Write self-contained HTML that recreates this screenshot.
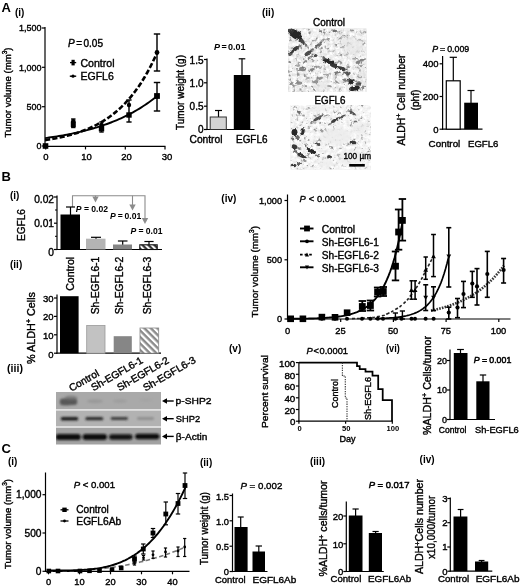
<!DOCTYPE html>
<html><head><meta charset="utf-8"><title>Figure</title>
<style>html,body{margin:0;padding:0;background:#fff;}svg{display:block}text{font-family:"Liberation Sans",sans-serif;}</style>
</head><body>
<svg width="520" height="586" viewBox="0 0 520 586">
<defs>
<filter id="b1" x="-20%" y="-20%" width="140%" height="140%"><feGaussianBlur stdDeviation="0.7"/></filter>
<filter id="b2" x="-20%" y="-20%" width="140%" height="140%"><feGaussianBlur stdDeviation="1.1"/></filter>
<filter id="b3" x="-20%" y="-20%" width="140%" height="140%"><feGaussianBlur stdDeviation="1.6"/></filter>
<filter id="soft" x="-2%" y="-2%" width="104%" height="104%"><feGaussianBlur stdDeviation="0.35"/></filter>
<filter id="grain1" x="0" y="0" width="100%" height="100%"><feTurbulence type="fractalNoise" baseFrequency="0.3" numOctaves="3" seed="4" result="n"/><feColorMatrix in="n" type="matrix" values="0.55 0 0 0 0.6  0.55 0 0 0 0.6  0.55 0 0 0 0.6  0 0 0 0 1" result="c"/><feComposite in="c" in2="SourceGraphic" operator="in"/></filter>
<filter id="grain2" x="0" y="0" width="100%" height="100%"><feTurbulence type="fractalNoise" baseFrequency="0.3" numOctaves="3" seed="11" result="n"/><feColorMatrix in="n" type="matrix" values="0.4 0 0 0 0.71  0.4 0 0 0 0.71  0.4 0 0 0 0.71  0 0 0 0 1" result="c"/><feComposite in="c" in2="SourceGraphic" operator="in"/></filter>
<filter id="speck1" x="0" y="0" width="100%" height="100%"><feTurbulence type="fractalNoise" baseFrequency="0.26" numOctaves="3" seed="23" result="n"/><feColorMatrix in="n" type="matrix" values="0 0 0 0 0.3  0 0 0 0 0.3  0 0 0 0 0.3  -5 0 0 0 2.05" result="c"/><feComposite in="c" in2="SourceGraphic" operator="in" result="k"/><feGaussianBlur in="k" stdDeviation="0.6"/></filter>
<filter id="speck2" x="0" y="0" width="100%" height="100%"><feTurbulence type="fractalNoise" baseFrequency="0.28" numOctaves="3" seed="31" result="n"/><feColorMatrix in="n" type="matrix" values="0 0 0 0 0.3  0 0 0 0 0.3  0 0 0 0 0.3  -5 0 0 0 1.95" result="c"/><feComposite in="c" in2="SourceGraphic" operator="in" result="k"/><feGaussianBlur in="k" stdDeviation="0.6"/></filter>
<filter id="blot" x="-10%" y="-10%" width="120%" height="120%"><feGaussianBlur stdDeviation="0.35" result="g"/><feTurbulence type="fractalNoise" baseFrequency="0.32" numOctaves="2" seed="7" result="t"/><feDisplacementMap in="g" in2="t" scale="3.2" xChannelSelector="R" yChannelSelector="G" result="d"/><feGaussianBlur in="d" stdDeviation="0.45"/></filter>
<pattern id="hatch" width="4.6" height="4.6" patternUnits="userSpaceOnUse" patternTransform="rotate(45)">
<rect width="4.6" height="4.6" fill="#fff"/><rect width="4.6" height="2.4" fill="#8a8a8a"/></pattern>
<pattern id="hatch2" width="4.2" height="4.2" patternUnits="userSpaceOnUse" patternTransform="rotate(45)">
<rect width="4.2" height="4.2" fill="#fff"/><rect width="4.2" height="2.2" fill="#333"/></pattern>
<clipPath id="cm1"><rect x="288" y="28.5" width="78.5" height="63.5"/></clipPath>
<clipPath id="cm2"><rect x="290.5" y="105" width="80.5" height="64.5"/></clipPath>
<clipPath id="cwb"><rect x="56" y="392" width="105" height="52.5"/></clipPath>
</defs>
<rect width="520" height="586" fill="#fff"/>
<g filter="url(#soft)">
<text x="1.50" y="11.50" font-size="13" text-anchor="start" fill="#000" font-weight="bold">A</text>
<text x="15.00" y="16.38" font-size="10" text-anchor="start" fill="#000" font-weight="bold">(i)</text>
<line x1="45.00" y1="27.00" x2="45.00" y2="146.60" stroke="#000" stroke-width="1.2" stroke-linecap="butt"/>
<line x1="42.00" y1="28.00" x2="45.00" y2="28.00" stroke="#000" stroke-width="1.2" stroke-linecap="butt"/>
<line x1="42.00" y1="67.30" x2="45.00" y2="67.30" stroke="#000" stroke-width="1.2" stroke-linecap="butt"/>
<line x1="42.00" y1="106.70" x2="45.00" y2="106.70" stroke="#000" stroke-width="1.2" stroke-linecap="butt"/>
<line x1="42.00" y1="146.00" x2="45.00" y2="146.00" stroke="#000" stroke-width="1.2" stroke-linecap="butt"/>
<line x1="44.40" y1="146.40" x2="165.50" y2="146.40" stroke="#000" stroke-width="1.2" stroke-linecap="butt"/>
<line x1="45.70" y1="146.40" x2="45.70" y2="149.40" stroke="#000" stroke-width="1.2" stroke-linecap="butt"/>
<line x1="85.50" y1="146.40" x2="85.50" y2="149.40" stroke="#000" stroke-width="1.2" stroke-linecap="butt"/>
<line x1="125.30" y1="146.40" x2="125.30" y2="149.40" stroke="#000" stroke-width="1.2" stroke-linecap="butt"/>
<line x1="165.00" y1="146.40" x2="165.00" y2="149.40" stroke="#000" stroke-width="1.2" stroke-linecap="butt"/>
<text x="41.50" y="31.22" font-size="9" text-anchor="end" fill="#000" stroke="#000" stroke-width="0.38">1,500</text>
<text x="41.50" y="70.52" font-size="9" text-anchor="end" fill="#000" stroke="#000" stroke-width="0.38">1,000</text>
<text x="41.50" y="109.92" font-size="9" text-anchor="end" fill="#000" stroke="#000" stroke-width="0.38">500</text>
<text x="41.50" y="149.22" font-size="9" text-anchor="end" fill="#000" stroke="#000" stroke-width="0.38">0</text>
<text x="45.90" y="160.00" font-size="9.5" text-anchor="middle" fill="#000" stroke="#000" stroke-width="0.38">0</text>
<text x="86.50" y="160.00" font-size="9.5" text-anchor="middle" fill="#000" stroke="#000" stroke-width="0.38">10</text>
<text x="126.50" y="160.00" font-size="9.5" text-anchor="middle" fill="#000" stroke="#000" stroke-width="0.38">20</text>
<text x="167.00" y="160.00" font-size="9.5" text-anchor="middle" fill="#000" stroke="#000" stroke-width="0.38">30</text>
<text x="10.50" y="92.50" font-size="9.7" text-anchor="middle" fill="#000" stroke="#000" stroke-width="0.38" transform="rotate(-90 10.50 92.50)" textLength="90" lengthAdjust="spacingAndGlyphs">Tumor volume (mm<tspan font-size="6.5" dy="-3.5">3</tspan><tspan dy="3.5">)</tspan></text>
<text x="68.00" y="46.58" font-size="10" text-anchor="start" fill="#000" stroke="#000" stroke-width="0.38"><tspan font-style="italic">P</tspan><tspan dx="1.51">=</tspan><tspan dx="1.51">0.05</tspan></text>
<rect x="71.50" y="59.80" width="3.20" height="5.60" fill="#000"/>
<line x1="70.00" y1="62.60" x2="76.20" y2="62.60" stroke="#000" stroke-width="1.3" stroke-linecap="butt"/>
<text x="80.50" y="66.66" font-size="10.5" text-anchor="start" fill="#000" stroke="#000" stroke-width="0.38" textLength="34" lengthAdjust="spacingAndGlyphs">Control</text>
<circle cx="73.00" cy="76.20" r="1.6" fill="#000"/>
<line x1="69.80" y1="76.20" x2="76.20" y2="76.20" stroke="#000" stroke-width="1.4" stroke-linecap="butt"/>
<text x="80.50" y="80.36" font-size="10.5" text-anchor="start" fill="#000" stroke="#000" stroke-width="0.38" textLength="33.3" lengthAdjust="spacingAndGlyphs">EGFL6</text>
<path d="M45.00,138.09 L47.00,137.82 L49.00,137.55 L51.00,137.26 L53.00,136.97 L55.00,136.66 L57.00,136.35 L59.00,136.02 L61.00,135.68 L63.00,135.34 L65.00,134.98 L67.00,134.61 L69.00,134.22 L71.00,133.83 L73.00,133.42 L75.00,133.00 L77.00,132.56 L79.00,132.11 L81.00,131.64 L83.00,131.16 L85.00,130.67 L87.00,130.15 L89.00,129.62 L91.00,129.07 L93.00,128.51 L95.00,127.92 L97.00,127.32 L99.00,126.70 L101.00,126.05 L103.00,125.39 L105.00,124.70 L107.00,123.99 L109.00,123.25 L111.00,122.50 L113.00,121.71 L115.00,120.90 L117.00,120.07 L119.00,119.20 L121.00,118.31 L123.00,117.39 L125.00,116.44 L127.00,115.45 L129.00,114.44 L131.00,113.39 L133.00,112.30 L135.00,111.18 L137.00,110.03 L139.00,108.83 L141.00,107.60 L143.00,106.32 L145.00,105.00 L147.00,103.64 L149.00,102.23 L151.00,100.78 L153.00,99.28 L155.00,97.73 L157.00,96.13" fill="none" stroke="#000" stroke-width="1.9" stroke-linecap="butt" stroke-linejoin="round"/>
<path d="M45.00,140.10 L47.00,139.80 L49.00,139.48 L51.00,139.15 L53.00,138.79 L55.00,138.42 L57.00,138.03 L59.00,137.63 L61.00,137.20 L63.00,136.75 L65.00,136.28 L67.00,135.78 L69.00,135.26 L71.00,134.71 L73.00,134.14 L75.00,133.54 L77.00,132.90 L79.00,132.24 L81.00,131.54 L83.00,130.81 L85.00,130.04 L87.00,129.24 L89.00,128.39 L91.00,127.50 L93.00,126.56 L95.00,125.58 L97.00,124.55 L99.00,123.47 L101.00,122.34 L103.00,121.15 L105.00,119.89 L107.00,118.58 L109.00,117.20 L111.00,115.75 L113.00,114.23 L115.00,112.63 L117.00,110.96 L119.00,109.20 L121.00,107.35 L123.00,105.41 L125.00,103.37 L127.00,101.23 L129.00,98.98 L131.00,96.63 L133.00,94.15 L135.00,91.55 L137.00,88.82 L139.00,85.95 L141.00,82.94 L143.00,79.78 L145.00,76.47 L147.00,72.98 L149.00,69.33 L151.00,65.49 L153.00,61.45 L155.00,57.22 L157.00,52.78 L157.50,51.63" fill="none" stroke="#000" stroke-width="2.6" stroke-linecap="butt" stroke-linejoin="round" stroke-dasharray="5.2 2.2"/>
<line x1="157.00" y1="34.00" x2="157.00" y2="71.00" stroke="#000" stroke-width="1.45" stroke-linecap="butt"/>
<line x1="153.80" y1="34.00" x2="160.20" y2="34.00" stroke="#000" stroke-width="1.45" stroke-linecap="butt"/>
<line x1="153.80" y1="71.00" x2="160.20" y2="71.00" stroke="#000" stroke-width="1.45" stroke-linecap="butt"/>
<circle cx="157.00" cy="52.50" r="2.4" fill="#000"/>
<line x1="157.00" y1="82.50" x2="157.00" y2="111.00" stroke="#000" stroke-width="1.45" stroke-linecap="butt"/>
<line x1="153.80" y1="82.50" x2="160.20" y2="82.50" stroke="#000" stroke-width="1.45" stroke-linecap="butt"/>
<line x1="153.80" y1="111.00" x2="160.20" y2="111.00" stroke="#000" stroke-width="1.45" stroke-linecap="butt"/>
<rect x="154.10" y="93.10" width="5.80" height="5.80" fill="#000"/>
<line x1="129.00" y1="100.00" x2="129.00" y2="122.00" stroke="#000" stroke-width="1.45" stroke-linecap="butt"/>
<line x1="126.40" y1="100.00" x2="131.60" y2="100.00" stroke="#000" stroke-width="1.45" stroke-linecap="butt"/>
<line x1="126.40" y1="122.00" x2="131.60" y2="122.00" stroke="#000" stroke-width="1.45" stroke-linecap="butt"/>
<circle cx="129.00" cy="105.00" r="2.2" fill="#000"/>
<rect x="126.30" y="112.30" width="5.40" height="5.40" fill="#000"/>
<line x1="101.50" y1="122.00" x2="101.50" y2="132.00" stroke="#000" stroke-width="1.4" stroke-linecap="butt"/>
<line x1="99.30" y1="122.00" x2="103.70" y2="122.00" stroke="#000" stroke-width="1.4" stroke-linecap="butt"/>
<line x1="99.30" y1="132.00" x2="103.70" y2="132.00" stroke="#000" stroke-width="1.4" stroke-linecap="butt"/>
<circle cx="101.50" cy="125.00" r="2.3" fill="#000"/>
<rect x="98.80" y="126.00" width="5.40" height="5.40" fill="#000"/>
<line x1="73.30" y1="119.00" x2="73.30" y2="127.50" stroke="#000" stroke-width="1.4" stroke-linecap="butt"/>
<line x1="71.10" y1="119.00" x2="75.50" y2="119.00" stroke="#000" stroke-width="1.4" stroke-linecap="butt"/>
<line x1="71.10" y1="127.50" x2="75.50" y2="127.50" stroke="#000" stroke-width="1.4" stroke-linecap="butt"/>
<circle cx="73.30" cy="121.50" r="2.4" fill="#000"/>
<rect x="70.80" y="122.00" width="5.00" height="5.00" fill="#000"/>
<rect x="42.70" y="143.20" width="5.60" height="5.60" fill="#000"/>
<line x1="207.00" y1="58.50" x2="207.00" y2="130.10" stroke="#000" stroke-width="1.2" stroke-linecap="butt"/>
<line x1="204.00" y1="59.50" x2="207.00" y2="59.50" stroke="#000" stroke-width="1.2" stroke-linecap="butt"/>
<line x1="204.00" y1="82.80" x2="207.00" y2="82.80" stroke="#000" stroke-width="1.2" stroke-linecap="butt"/>
<line x1="204.00" y1="106.20" x2="207.00" y2="106.20" stroke="#000" stroke-width="1.2" stroke-linecap="butt"/>
<line x1="204.00" y1="129.50" x2="207.00" y2="129.50" stroke="#000" stroke-width="1.2" stroke-linecap="butt"/>
<line x1="206.40" y1="129.50" x2="254.50" y2="129.50" stroke="#000" stroke-width="1.2" stroke-linecap="butt"/>
<text x="203.50" y="63.58" font-size="10" text-anchor="end" fill="#000" stroke="#000" stroke-width="0.38">1.5</text>
<text x="203.50" y="86.58" font-size="10" text-anchor="end" fill="#000" stroke="#000" stroke-width="0.38">1.0</text>
<text x="203.50" y="109.88" font-size="10" text-anchor="end" fill="#000" stroke="#000" stroke-width="0.38">0.5</text>
<text x="203.50" y="133.08" font-size="10" text-anchor="end" fill="#000" stroke="#000" stroke-width="0.38">0</text>
<text x="184.00" y="92.50" font-size="10" text-anchor="middle" fill="#000" stroke="#000" stroke-width="0.38" transform="rotate(-90 184.00 92.50)" textLength="75" lengthAdjust="spacingAndGlyphs">Tumor weight (g)</text>
<line x1="218.50" y1="110.50" x2="218.50" y2="117.00" stroke="#000" stroke-width="1.2" stroke-linecap="butt"/>
<line x1="215.00" y1="110.50" x2="222.00" y2="110.50" stroke="#000" stroke-width="1.2" stroke-linecap="butt"/>
<rect x="210.20" y="117.00" width="16.10" height="12.50" fill="#d4d4d4" stroke="#333" stroke-width="1"/>
<line x1="242.00" y1="58.80" x2="242.00" y2="76.00" stroke="#000" stroke-width="1.2" stroke-linecap="butt"/>
<line x1="238.70" y1="58.80" x2="245.30" y2="58.80" stroke="#000" stroke-width="1.2" stroke-linecap="butt"/>
<rect x="233.80" y="75.00" width="16.50" height="54.50" fill="#000"/>
<text x="214.00" y="50.22" font-size="9" text-anchor="start" fill="#000" font-weight="bold"><tspan font-style="italic">P</tspan><tspan dx="1.36">=</tspan><tspan dx="1.36">0.01</tspan></text>
<text x="189.50" y="143.15" font-size="10.2" text-anchor="start" fill="#000" stroke="#000" stroke-width="0.38" textLength="33" lengthAdjust="spacingAndGlyphs">Control</text>
<text x="236.00" y="143.15" font-size="10.2" text-anchor="start" fill="#000" stroke="#000" stroke-width="0.38" textLength="31.5" lengthAdjust="spacingAndGlyphs">EGFL6</text>
<text x="262.00" y="16.48" font-size="10" text-anchor="start" fill="#000" font-weight="bold">(ii)</text>
<text x="329.00" y="26.38" font-size="10" text-anchor="middle" fill="#000" stroke="#000" stroke-width="0.38" textLength="32" lengthAdjust="spacingAndGlyphs">Control</text>
<text x="330.00" y="104.08" font-size="10" text-anchor="middle" fill="#000" stroke="#000" stroke-width="0.38" textLength="31" lengthAdjust="spacingAndGlyphs">EGFL6</text>
<rect x="288.00" y="28.50" width="78.50" height="63.50" fill="#e0e0e0"/>
<g clip-path="url(#cm1)">
<rect x="288" y="28.5" width="78.5" height="63.5" filter="url(#grain1)"/>
<rect x="288" y="28.5" width="78.5" height="63.5" filter="url(#speck1)"/>
<g filter="url(#b3)" opacity="0.7">
<ellipse cx="352" cy="46" rx="13" ry="8" fill="#e6e6e6" opacity="1" transform="rotate(20 352 46)"/>
<ellipse cx="322" cy="86" rx="8" ry="4" fill="#e4e4e4" opacity="1" transform="rotate(0 322 86)"/>
<ellipse cx="362" cy="74" rx="4" ry="5" fill="#e4e4e4" opacity="1" transform="rotate(0 362 74)"/>
</g>
<g filter="url(#blot)">
<ellipse cx="295.5" cy="34.5" rx="7" ry="4.2" fill="#1c1c1c" opacity="0.95" transform="rotate(35 295.5 34.5)"/>
<ellipse cx="291" cy="31" rx="3.5" ry="2.5" fill="#333" opacity="0.85" transform="rotate(0 291 31)"/>
<ellipse cx="301" cy="40" rx="4.5" ry="2" fill="#2a2a2a" opacity="0.85" transform="rotate(50 301 40)"/>
<ellipse cx="304.5" cy="44" rx="3" ry="1.3" fill="#444" opacity="0.7" transform="rotate(55 304.5 44)"/>
<ellipse cx="294.5" cy="49.5" rx="5.5" ry="2" fill="#222" opacity="0.9" transform="rotate(-38 294.5 49.5)"/>
<ellipse cx="290.5" cy="54" rx="2.5" ry="1.6" fill="#3a3a3a" opacity="0.8" transform="rotate(-30 290.5 54)"/>
<ellipse cx="299" cy="46" rx="3" ry="1.2" fill="#555" opacity="0.7" transform="rotate(-35 299 46)"/>
<ellipse cx="307.5" cy="53.5" rx="3.5" ry="1.8" fill="#333" opacity="0.85" transform="rotate(-40 307.5 53.5)"/>
<ellipse cx="311.5" cy="50.5" rx="3" ry="1.4" fill="#444" opacity="0.75" transform="rotate(-40 311.5 50.5)"/>
<ellipse cx="315.3" cy="55.5" rx="2.2" ry="1.6" fill="#2a2a2a" opacity="0.85" transform="rotate(0 315.3 55.5)"/>
<ellipse cx="310" cy="57.5" rx="2.5" ry="1.2" fill="#555" opacity="0.7" transform="rotate(-30 310 57.5)"/>
<ellipse cx="318.5" cy="45" rx="4.5" ry="1.3" fill="#444" opacity="0.75" transform="rotate(-40 318.5 45)"/>
<ellipse cx="322" cy="41" rx="3" ry="1.1" fill="#666" opacity="0.6" transform="rotate(-40 322 41)"/>
<ellipse cx="305" cy="62" rx="2.5" ry="1.3" fill="#555" opacity="0.65" transform="rotate(-40 305 62)"/>
<ellipse cx="328.5" cy="61.5" rx="6" ry="2.4" fill="#1c1c1c" opacity="0.95" transform="rotate(15 328.5 61.5)"/>
<ellipse cx="334" cy="65.5" rx="4.5" ry="2" fill="#222" opacity="0.9" transform="rotate(20 334 65.5)"/>
<ellipse cx="341.5" cy="68.5" rx="4.5" ry="2" fill="#2a2a2a" opacity="0.9" transform="rotate(20 341.5 68.5)"/>
<ellipse cx="324" cy="58" rx="3" ry="1.5" fill="#444" opacity="0.75" transform="rotate(30 324 58)"/>
<ellipse cx="346" cy="73.5" rx="4" ry="1.6" fill="#3a3a3a" opacity="0.8" transform="rotate(15 346 73.5)"/>
<ellipse cx="337" cy="72.5" rx="3" ry="1.3" fill="#444" opacity="0.7" transform="rotate(-10 337 72.5)"/>
<ellipse cx="340" cy="62" rx="2.5" ry="1.1" fill="#666" opacity="0.6" transform="rotate(30 340 62)"/>
<ellipse cx="302.5" cy="69" rx="3.5" ry="2.2" fill="#555" opacity="0.7" transform="rotate(0 302.5 69)"/>
<ellipse cx="298" cy="65.5" rx="2" ry="1.4" fill="#666" opacity="0.6" transform="rotate(0 298 65.5)"/>
<ellipse cx="311.5" cy="70" rx="3.2" ry="1.6" fill="#555" opacity="0.7" transform="rotate(-20 311.5 70)"/>
<ellipse cx="350.5" cy="81" rx="4.2" ry="1.8" fill="#222" opacity="0.9" transform="rotate(40 350.5 81)"/>
<ellipse cx="351.5" cy="82" rx="4" ry="1.6" fill="#222" opacity="0.85" transform="rotate(-40 351.5 82)"/>
<ellipse cx="354.5" cy="88.3" rx="5.5" ry="2.6" fill="#1c1c1c" opacity="0.95" transform="rotate(-12 354.5 88.3)"/>
<ellipse cx="358.5" cy="84" rx="3" ry="1.8" fill="#3a3a3a" opacity="0.8" transform="rotate(0 358.5 84)"/>
<ellipse cx="345.5" cy="80" rx="2.5" ry="1.6" fill="#555" opacity="0.7" transform="rotate(0 345.5 80)"/>
<ellipse cx="358.5" cy="62" rx="3.2" ry="1.5" fill="#555" opacity="0.7" transform="rotate(-20 358.5 62)"/>
<ellipse cx="363" cy="59.5" rx="2.5" ry="1.3" fill="#555" opacity="0.7" transform="rotate(-30 363 59.5)"/>
<ellipse cx="361" cy="66" rx="2" ry="1.2" fill="#666" opacity="0.6" transform="rotate(0 361 66)"/>
<ellipse cx="334.8" cy="31" rx="2.4" ry="1.4" fill="#444" opacity="0.75" transform="rotate(0 334.8 31)"/>
<ellipse cx="320.5" cy="31.5" rx="2" ry="1.3" fill="#555" opacity="0.7" transform="rotate(0 320.5 31.5)"/>
<ellipse cx="352" cy="30.5" rx="2.2" ry="1.1" fill="#666" opacity="0.6" transform="rotate(0 352 30.5)"/>
<ellipse cx="341" cy="38" rx="3" ry="1" fill="#666" opacity="0.6" transform="rotate(-30 341 38)"/>
<ellipse cx="315" cy="81.5" rx="3.2" ry="1.8" fill="#777" opacity="0.7" transform="rotate(0 315 81.5)"/>
<ellipse cx="299" cy="83" rx="3" ry="1.8" fill="#666" opacity="0.7" transform="rotate(0 299 83)"/>
<ellipse cx="291" cy="83.5" rx="2" ry="1.5" fill="#666" opacity="0.7" transform="rotate(0 291 83.5)"/>
<ellipse cx="319.5" cy="78.5" rx="3.5" ry="1.5" fill="#666" opacity="0.65" transform="rotate(-15 319.5 78.5)"/>
<ellipse cx="343" cy="47" rx="2.2" ry="1" fill="#888" opacity="0.6" transform="rotate(-20 343 47)"/>
<ellipse cx="325" cy="75" rx="2.2" ry="1.2" fill="#777" opacity="0.6" transform="rotate(0 325 75)"/>
<ellipse cx="308" cy="78" rx="2" ry="1.1" fill="#777" opacity="0.6" transform="rotate(0 308 78)"/>
<ellipse cx="321" cy="67" rx="2.2" ry="1.2" fill="#888" opacity="0.6" transform="rotate(0 321 67)"/>
<ellipse cx="348" cy="72" rx="2" ry="1" fill="#555" opacity="0.6" transform="rotate(30 348 72)"/>
<ellipse cx="360" cy="77" rx="2.2" ry="1.3" fill="#777" opacity="0.6" transform="rotate(0 360 77)"/>
<ellipse cx="363" cy="87" rx="2.2" ry="1.6" fill="#555" opacity="0.65" transform="rotate(0 363 87)"/>
<ellipse cx="329" cy="86" rx="2" ry="1.1" fill="#777" opacity="0.6" transform="rotate(0 329 86)"/>
<ellipse cx="290" cy="62" rx="1.8" ry="1.1" fill="#555" opacity="0.7" transform="rotate(0 290 62)"/>
</g></g>
<rect x="290.50" y="105.00" width="80.50" height="64.50" fill="#e9e9e9"/>
<g clip-path="url(#cm2)">
<rect x="290.5" y="105" width="80.5" height="64.5" filter="url(#grain2)"/>
<rect x="290.5" y="105" width="80.5" height="64.5" filter="url(#speck2)"/>
<g filter="url(#b3)" opacity="0.8">
<ellipse cx="336" cy="136" rx="16" ry="9" fill="#ececec" opacity="1" transform="rotate(0 336 136)"/>
<ellipse cx="352" cy="158" rx="14" ry="8" fill="#ececec" opacity="1" transform="rotate(0 352 158)"/>
<ellipse cx="325" cy="163" rx="8" ry="4" fill="#ececec" opacity="1" transform="rotate(0 325 163)"/>
<ellipse cx="360" cy="128" rx="8" ry="6" fill="#ececec" opacity="1" transform="rotate(0 360 128)"/>
<ellipse cx="318" cy="109" rx="10" ry="3" fill="#ececec" opacity="1" transform="rotate(0 318 109)"/>
</g>
<g filter="url(#blot)">
<ellipse cx="294.5" cy="132.5" rx="3" ry="3.4" fill="#1c1c1c" opacity="0.95" transform="rotate(0 294.5 132.5)"/>
<ellipse cx="302.5" cy="131.5" rx="2.1" ry="3.6" fill="#222" opacity="0.95" transform="rotate(10 302.5 131.5)"/>
<ellipse cx="297.5" cy="137.5" rx="2.4" ry="1.7" fill="#444" opacity="0.8" transform="rotate(0 297.5 137.5)"/>
<ellipse cx="292.5" cy="139" rx="1.8" ry="1.5" fill="#444" opacity="0.75" transform="rotate(0 292.5 139)"/>
<ellipse cx="294.5" cy="146.8" rx="3" ry="2.3" fill="#222" opacity="0.9" transform="rotate(30 294.5 146.8)"/>
<ellipse cx="301.5" cy="155.5" rx="4.6" ry="2" fill="#222" opacity="0.9" transform="rotate(25 301.5 155.5)"/>
<ellipse cx="295.5" cy="152" rx="2.4" ry="1.7" fill="#444" opacity="0.75" transform="rotate(0 295.5 152)"/>
<ellipse cx="299" cy="148.5" rx="2" ry="1.2" fill="#555" opacity="0.7" transform="rotate(30 299 148.5)"/>
<ellipse cx="311.5" cy="151" rx="5.2" ry="2" fill="#1c1c1c" opacity="0.95" transform="rotate(25 311.5 151)"/>
<ellipse cx="317" cy="144" rx="3.6" ry="1.4" fill="#333" opacity="0.85" transform="rotate(20 317 144)"/>
<ellipse cx="317.5" cy="156" rx="2.8" ry="1.1" fill="#444" opacity="0.7" transform="rotate(20 317.5 156)"/>
<ellipse cx="306" cy="146" rx="2.2" ry="1.2" fill="#555" opacity="0.7" transform="rotate(20 306 146)"/>
<ellipse cx="317.5" cy="118.5" rx="4.8" ry="1.5" fill="#333" opacity="0.85" transform="rotate(-30 317.5 118.5)"/>
<ellipse cx="312" cy="122.5" rx="2.4" ry="1.1" fill="#555" opacity="0.65" transform="rotate(-30 312 122.5)"/>
<ellipse cx="322" cy="115.5" rx="2.2" ry="1" fill="#555" opacity="0.65" transform="rotate(-30 322 115.5)"/>
<ellipse cx="335.5" cy="120" rx="5.2" ry="1.6" fill="#2a2a2a" opacity="0.9" transform="rotate(-30 335.5 120)"/>
<ellipse cx="343" cy="116.5" rx="3.5" ry="1.3" fill="#3a3a3a" opacity="0.85" transform="rotate(-25 343 116.5)"/>
<ellipse cx="339" cy="113.5" rx="2.2" ry="1" fill="#666" opacity="0.6" transform="rotate(-20 339 113.5)"/>
<ellipse cx="330" cy="124" rx="2.4" ry="1" fill="#555" opacity="0.65" transform="rotate(-30 330 124)"/>
<ellipse cx="352.5" cy="113" rx="4" ry="1.3" fill="#3a3a3a" opacity="0.85" transform="rotate(35 352.5 113)"/>
<ellipse cx="355" cy="121.5" rx="2.4" ry="1.1" fill="#444" opacity="0.75" transform="rotate(0 355 121.5)"/>
<ellipse cx="348" cy="111" rx="2" ry="1" fill="#666" opacity="0.6" transform="rotate(0 348 111)"/>
<ellipse cx="353" cy="142.5" rx="3.4" ry="1.7" fill="#222" opacity="0.9" transform="rotate(10 353 142.5)"/>
<ellipse cx="329" cy="157" rx="2" ry="2" fill="#2a2a2a" opacity="0.9" transform="rotate(0 329 157)"/>
<ellipse cx="331" cy="147" rx="1.8" ry="1.1" fill="#666" opacity="0.6" transform="rotate(0 331 147)"/>
<ellipse cx="293.5" cy="165.5" rx="3" ry="1.7" fill="#222" opacity="0.9" transform="rotate(0 293.5 165.5)"/>
<ellipse cx="299.5" cy="163.5" rx="2.8" ry="1.4" fill="#3a3a3a" opacity="0.8" transform="rotate(-20 299.5 163.5)"/>
<ellipse cx="304.5" cy="161" rx="2.2" ry="1.1" fill="#555" opacity="0.65" transform="rotate(0 304.5 161)"/>
<ellipse cx="299" cy="112.5" rx="1.7" ry="2.2" fill="#444" opacity="0.75" transform="rotate(20 299 112.5)"/>
<ellipse cx="303.5" cy="115.5" rx="1.4" ry="1.1" fill="#666" opacity="0.6" transform="rotate(0 303.5 115.5)"/>
<ellipse cx="295" cy="107.5" rx="2.2" ry="1.1" fill="#777" opacity="0.6" transform="rotate(0 295 107.5)"/>
<ellipse cx="308" cy="140" rx="1.7" ry="1.1" fill="#666" opacity="0.6" transform="rotate(0 308 140)"/>
<ellipse cx="321.5" cy="131" rx="2.2" ry="1.2" fill="#666" opacity="0.6" transform="rotate(0 321.5 131)"/>
<ellipse cx="338" cy="155" rx="1.3" ry="1.3" fill="#888" opacity="0.5" transform="rotate(0 338 155)"/>
<ellipse cx="309" cy="128" rx="1.6" ry="1" fill="#777" opacity="0.55" transform="rotate(0 309 128)"/>
</g></g>
<text x="343.50" y="158.92" font-size="9" text-anchor="start" fill="#000" stroke="#000" stroke-width="0.38" textLength="27.5" lengthAdjust="spacingAndGlyphs">100 µm</text>
<rect x="349.20" y="164.00" width="15.60" height="2.60" fill="#000"/>
<line x1="442.60" y1="56.00" x2="442.60" y2="129.80" stroke="#000" stroke-width="1.2" stroke-linecap="butt"/>
<line x1="439.60" y1="63.80" x2="442.60" y2="63.80" stroke="#000" stroke-width="1.2" stroke-linecap="butt"/>
<line x1="439.60" y1="96.50" x2="442.60" y2="96.50" stroke="#000" stroke-width="1.2" stroke-linecap="butt"/>
<line x1="439.60" y1="129.20" x2="442.60" y2="129.20" stroke="#000" stroke-width="1.2" stroke-linecap="butt"/>
<line x1="442.00" y1="129.20" x2="482.50" y2="129.20" stroke="#000" stroke-width="1.2" stroke-linecap="butt"/>
<text x="438.50" y="67.20" font-size="9.5" text-anchor="end" fill="#000" stroke="#000" stroke-width="0.38">400</text>
<text x="438.50" y="99.90" font-size="9.5" text-anchor="end" fill="#000" stroke="#000" stroke-width="0.38">200</text>
<text x="438.50" y="132.60" font-size="9.5" text-anchor="end" fill="#000" stroke="#000" stroke-width="0.38">0</text>
<line x1="453.30" y1="57.30" x2="453.30" y2="81.00" stroke="#000" stroke-width="1.2" stroke-linecap="butt"/>
<line x1="449.70" y1="57.30" x2="456.90" y2="57.30" stroke="#000" stroke-width="1.2" stroke-linecap="butt"/>
<rect x="446.30" y="80.80" width="13.90" height="48.40" fill="#fff" stroke="#000" stroke-width="1.2"/>
<line x1="471.00" y1="90.50" x2="471.00" y2="103.00" stroke="#000" stroke-width="1.2" stroke-linecap="butt"/>
<line x1="467.50" y1="90.50" x2="474.50" y2="90.50" stroke="#000" stroke-width="1.2" stroke-linecap="butt"/>
<rect x="464.20" y="102.70" width="13.80" height="26.50" fill="#000"/>
<text x="432.30" y="51.85" font-size="8.8" text-anchor="start" fill="#000" stroke="#000" stroke-width="0.38"><tspan font-style="italic">P</tspan><tspan dx="1.94">=</tspan><tspan dx="1.94">0.009</tspan></text>
<text x="428.60" y="147.21" font-size="9.8" text-anchor="start" fill="#000" stroke="#000" stroke-width="0.38" textLength="31.7" lengthAdjust="spacingAndGlyphs">Control</text>
<text x="468.00" y="147.21" font-size="9.8" text-anchor="start" fill="#000" stroke="#000" stroke-width="0.38" textLength="30.4" lengthAdjust="spacingAndGlyphs">EGFL6</text>
<text x="404.50" y="100.00" font-size="10" text-anchor="middle" fill="#000" stroke="#000" stroke-width="0.38" transform="rotate(-90 404.50 100.00)" textLength="91" lengthAdjust="spacingAndGlyphs">ALDH<tspan font-size="7" dy="-3.5">+</tspan><tspan dy="3.5"> Cell number</tspan></text>
<text x="418.50" y="100.00" font-size="10" text-anchor="middle" fill="#000" stroke="#000" stroke-width="0.38" transform="rotate(-90 418.50 100.00)" textLength="21" lengthAdjust="spacingAndGlyphs">(phf)</text>
<text x="1.50" y="181.00" font-size="13" text-anchor="start" fill="#000" font-weight="bold">B</text>
<text x="10.00" y="199.08" font-size="10" text-anchor="start" fill="#000" font-weight="bold">(i)</text>
<line x1="57.00" y1="195.50" x2="57.00" y2="250.10" stroke="#000" stroke-width="1.2" stroke-linecap="butt"/>
<line x1="54.00" y1="197.00" x2="57.00" y2="197.00" stroke="#000" stroke-width="1.2" stroke-linecap="butt"/>
<line x1="54.00" y1="223.20" x2="57.00" y2="223.20" stroke="#000" stroke-width="1.2" stroke-linecap="butt"/>
<line x1="54.00" y1="249.50" x2="57.00" y2="249.50" stroke="#000" stroke-width="1.2" stroke-linecap="butt"/>
<line x1="55.00" y1="210.00" x2="57.00" y2="210.00" stroke="#000" stroke-width="1" stroke-linecap="butt"/>
<line x1="55.00" y1="236.30" x2="57.00" y2="236.30" stroke="#000" stroke-width="1" stroke-linecap="butt"/>
<line x1="56.40" y1="249.50" x2="162.00" y2="249.50" stroke="#000" stroke-width="1.2" stroke-linecap="butt"/>
<text x="54.00" y="203.15" font-size="10.2" text-anchor="end" fill="#000" stroke="#000" stroke-width="0.38">0.02</text>
<text x="54.00" y="227.15" font-size="10.2" text-anchor="end" fill="#000" stroke="#000" stroke-width="0.38">0.01</text>
<text x="54.00" y="256.15" font-size="10.2" text-anchor="end" fill="#000" stroke="#000" stroke-width="0.38">0</text>
<text x="25.20" y="225.00" font-size="10" text-anchor="middle" fill="#000" stroke="#000" stroke-width="0.38" transform="rotate(-90 25.20 225.00)" textLength="32" lengthAdjust="spacingAndGlyphs">EGFL6</text>
<path d="M72.5,207 V195.7 H145 V218" fill="none" stroke="#8c8c8c" stroke-width="1.1" stroke-linecap="butt" stroke-linejoin="miter"/>
<line x1="95.50" y1="195.70" x2="95.50" y2="198.00" stroke="#8c8c8c" stroke-width="1.1" stroke-linecap="butt"/>
<line x1="132.50" y1="195.70" x2="132.50" y2="205.00" stroke="#8c8c8c" stroke-width="1.1" stroke-linecap="butt"/>
<path d="M92.3,196.5 L98.7,196.5 L95.5,202.5 Z" fill="#8c8c8c"/>
<path d="M129.3,204.5 L135.7,204.5 L132.5,210.5 Z" fill="#8c8c8c"/>
<path d="M141.8,218 L148.2,218 L145,224 Z" fill="#8c8c8c"/>
<line x1="70.50" y1="207.00" x2="70.50" y2="215.00" stroke="#000" stroke-width="1.2" stroke-linecap="butt"/>
<line x1="66.00" y1="207.00" x2="75.00" y2="207.00" stroke="#000" stroke-width="1.2" stroke-linecap="butt"/>
<rect x="60.50" y="214.50" width="19.50" height="35.00" fill="#000"/>
<line x1="96.00" y1="237.30" x2="96.00" y2="239.00" stroke="#000" stroke-width="1.2" stroke-linecap="butt"/>
<line x1="91.00" y1="237.30" x2="101.00" y2="237.30" stroke="#000" stroke-width="1.2" stroke-linecap="butt"/>
<rect x="86.00" y="238.70" width="19.50" height="10.80" fill="#b4b4b4"/>
<line x1="122.70" y1="241.00" x2="122.70" y2="245.00" stroke="#000" stroke-width="1.2" stroke-linecap="butt"/>
<line x1="117.90" y1="241.00" x2="127.50" y2="241.00" stroke="#000" stroke-width="1.2" stroke-linecap="butt"/>
<rect x="113.00" y="244.50" width="19.00" height="5.00" fill="#858585"/>
<line x1="149.00" y1="241.50" x2="149.00" y2="245.00" stroke="#000" stroke-width="1.2" stroke-linecap="butt"/>
<line x1="144.40" y1="241.50" x2="153.60" y2="241.50" stroke="#000" stroke-width="1.2" stroke-linecap="butt"/>
<rect x="139.80" y="244.80" width="17.40" height="4.70" fill="url(#hatch2)" stroke="#111" stroke-width="1.1"/>
<text x="75.80" y="211.88" font-size="8.6" text-anchor="start" fill="#000" font-weight="bold"><tspan font-style="italic">P</tspan><tspan dx="2.35">=</tspan><tspan dx="2.35">0.02</tspan></text>
<text x="110.00" y="219.08" font-size="8.6" text-anchor="start" fill="#000" font-weight="bold"><tspan font-style="italic">P</tspan><tspan dx="1.90">=</tspan><tspan dx="1.90">0.01</tspan></text>
<text x="130.50" y="234.08" font-size="8.6" text-anchor="start" fill="#000" font-weight="bold"><tspan font-style="italic">P</tspan><tspan dx="2.25">=</tspan><tspan dx="2.25">0.01</tspan></text>
<text x="73.80" y="256.80" font-size="10" text-anchor="end" fill="#000" stroke="#000" stroke-width="0.38" transform="rotate(-90 73.80 256.80)" textLength="34" lengthAdjust="spacingAndGlyphs">Control</text>
<text x="99.20" y="256.80" font-size="10" text-anchor="end" fill="#000" stroke="#000" stroke-width="0.38" transform="rotate(-90 99.20 256.80)" textLength="57.5" lengthAdjust="spacingAndGlyphs">Sh-EGFL6-1</text>
<text x="123.00" y="256.80" font-size="10" text-anchor="end" fill="#000" stroke="#000" stroke-width="0.38" transform="rotate(-90 123.00 256.80)" textLength="57.5" lengthAdjust="spacingAndGlyphs">Sh-EGFL6-2</text>
<text x="151.00" y="256.80" font-size="10" text-anchor="end" fill="#000" stroke="#000" stroke-width="0.38" transform="rotate(-90 151.00 256.80)" textLength="57.5" lengthAdjust="spacingAndGlyphs">Sh-EGFL6-3</text>
<text x="10.00" y="267.58" font-size="10" text-anchor="start" fill="#000" font-weight="bold">(ii)</text>
<line x1="57.00" y1="294.50" x2="57.00" y2="353.80" stroke="#000" stroke-width="1.2" stroke-linecap="butt"/>
<line x1="54.00" y1="298.00" x2="57.00" y2="298.00" stroke="#000" stroke-width="1.2" stroke-linecap="butt"/>
<line x1="54.00" y1="316.40" x2="57.00" y2="316.40" stroke="#000" stroke-width="1.2" stroke-linecap="butt"/>
<line x1="54.00" y1="334.80" x2="57.00" y2="334.80" stroke="#000" stroke-width="1.2" stroke-linecap="butt"/>
<line x1="54.00" y1="353.20" x2="57.00" y2="353.20" stroke="#000" stroke-width="1.2" stroke-linecap="butt"/>
<line x1="56.40" y1="353.20" x2="161.00" y2="353.20" stroke="#000" stroke-width="1.2" stroke-linecap="butt"/>
<text x="53.50" y="301.90" font-size="9.5" text-anchor="end" fill="#000" stroke="#000" stroke-width="0.38">30</text>
<text x="53.50" y="320.40" font-size="9.5" text-anchor="end" fill="#000" stroke="#000" stroke-width="0.38">20</text>
<text x="53.50" y="338.70" font-size="9.5" text-anchor="end" fill="#000" stroke="#000" stroke-width="0.38">10</text>
<text x="53.50" y="358.40" font-size="9.5" text-anchor="end" fill="#000" stroke="#000" stroke-width="0.38">0</text>
<text x="34.50" y="328.00" font-size="10" text-anchor="middle" fill="#000" stroke="#000" stroke-width="0.38" transform="rotate(-90 34.50 328.00)" textLength="72" lengthAdjust="spacingAndGlyphs">% ALDH<tspan font-size="7" dy="-3.5">+</tspan><tspan dy="3.5"> Cells</tspan></text>
<rect x="60.00" y="296.20" width="18.60" height="57.00" fill="#000"/>
<rect x="86.70" y="325.50" width="18.30" height="27.70" fill="#c2c2c2" stroke="#9a9a9a" stroke-width="0.8"/>
<rect x="113.70" y="336.20" width="18.10" height="17.00" fill="#868686"/>
<rect x="140.00" y="328.00" width="18.70" height="25.20" fill="url(#hatch)" stroke="#888" stroke-width="0.8"/>
<text x="7.00" y="372.26" font-size="10.5" text-anchor="start" fill="#000" font-weight="bold" textLength="16" lengthAdjust="spacingAndGlyphs">(iii)</text>
<text x="71.40" y="391.80" font-size="10.2" text-anchor="start" fill="#000" stroke="#000" stroke-width="0.38" transform="rotate(-30 71.40 391.80)" textLength="33" lengthAdjust="spacingAndGlyphs">Control</text>
<text x="93.50" y="391.30" font-size="10.2" text-anchor="start" fill="#000" stroke="#000" stroke-width="0.38" transform="rotate(-30 93.50 391.30)" textLength="58" lengthAdjust="spacingAndGlyphs">Sh-EGFL6-1</text>
<text x="119.50" y="391.30" font-size="10.2" text-anchor="start" fill="#000" stroke="#000" stroke-width="0.38" transform="rotate(-30 119.50 391.30)" textLength="58" lengthAdjust="spacingAndGlyphs">Sh-EGFL6-2</text>
<text x="145.50" y="391.50" font-size="10.2" text-anchor="start" fill="#000" stroke="#000" stroke-width="0.38" transform="rotate(-30 145.50 391.50)" textLength="59" lengthAdjust="spacingAndGlyphs">Sh-EGFL6-3</text>
<rect x="56.00" y="392.00" width="105.00" height="17.20" fill="#a9a9a9"/>
<rect x="56.00" y="409.30" width="105.00" height="1.10" fill="#dcdcdc"/>
<rect x="56.00" y="410.60" width="105.00" height="15.80" fill="#b2b2b2"/>
<rect x="56.00" y="426.50" width="105.00" height="1.10" fill="#dcdcdc"/>
<rect x="56.00" y="427.80" width="105.00" height="16.70" fill="#a2a2a2"/>
<g clip-path="url(#cwb)" filter="url(#b2)">
<rect x="59.7" y="398.6" width="17.6" height="6.4" rx="3.2" fill="#4a4a4a" opacity="0.85"/>
<ellipse cx="71" cy="398" rx="6.5" ry="2.6" fill="#6a6a6a" opacity="0.6" transform="rotate(0 71 398)"/>
<ellipse cx="66" cy="404.5" rx="6" ry="1.5" fill="#555" opacity="0.4" transform="rotate(0 66 404.5)"/>
<ellipse cx="95" cy="401.2" rx="8" ry="2" fill="#8a8a8a" opacity="0.5" transform="rotate(0 95 401.2)"/>
<ellipse cx="120" cy="401" rx="7" ry="1.8" fill="#909090" opacity="0.45" transform="rotate(0 120 401)"/>
<ellipse cx="146" cy="400" rx="6" ry="1.5" fill="#999" opacity="0.3" transform="rotate(0 146 400)"/>
<rect x="60.7" y="417.0" width="17.6" height="3.4" rx="1.7" fill="#1e1e1e" opacity="1"/>
<rect x="85.3" y="417.09999999999997" width="18" height="3.2" rx="1.6" fill="#262626" opacity="0.95"/>
<rect x="110.7" y="417.1" width="17.2" height="2.8" rx="1.4" fill="#303030" opacity="0.9"/>
<rect x="137.0" y="417.1" width="17.0" height="2.8" rx="1.4" fill="#868686" opacity="0.75"/>
<rect x="55.699999999999996" y="433.9" width="25.2" height="6.2" rx="3.1" fill="#101010" opacity="1"/>
<rect x="82.6" y="434.1" width="24.4" height="5.8" rx="2.9" fill="#101010" opacity="1"/>
<rect x="109.0" y="434.3" width="23.6" height="5.4" rx="2.7" fill="#141414" opacity="1"/>
<rect x="135.10000000000002" y="433.8" width="24.4" height="5.4" rx="2.7" fill="#101010" opacity="1"/>
</g>
<line x1="165.00" y1="401.00" x2="173.70" y2="401.00" stroke="#000" stroke-width="1.4" stroke-linecap="butt"/>
<path d="M162,401 L167,398.2 L167,403.8 Z" fill="#000"/>
<line x1="165.00" y1="418.70" x2="173.70" y2="418.70" stroke="#000" stroke-width="1.4" stroke-linecap="butt"/>
<path d="M162,418.7 L167,415.9 L167,421.5 Z" fill="#000"/>
<line x1="165.00" y1="436.40" x2="173.70" y2="436.40" stroke="#000" stroke-width="1.4" stroke-linecap="butt"/>
<path d="M162,436.4 L167,433.59999999999997 L167,439.2 Z" fill="#000"/>
<text x="175.50" y="404.44" font-size="9.6" text-anchor="start" fill="#000" stroke="#000" stroke-width="0.38" textLength="36" lengthAdjust="spacingAndGlyphs">p-SHP2</text>
<text x="175.80" y="422.14" font-size="9.6" text-anchor="start" fill="#000" stroke="#000" stroke-width="0.38" textLength="24.3" lengthAdjust="spacingAndGlyphs">SHP2</text>
<text x="175.80" y="439.84" font-size="9.6" text-anchor="start" fill="#000" stroke="#000" stroke-width="0.38" textLength="31.5" lengthAdjust="spacingAndGlyphs">β-Actin</text>
<text x="221.30" y="202.38" font-size="10" text-anchor="start" fill="#000" font-weight="bold">(iv)</text>
<line x1="287.50" y1="194.50" x2="287.50" y2="319.60" stroke="#000" stroke-width="1.2" stroke-linecap="butt"/>
<line x1="284.50" y1="200.50" x2="287.50" y2="200.50" stroke="#000" stroke-width="1.2" stroke-linecap="butt"/>
<line x1="284.50" y1="259.80" x2="287.50" y2="259.80" stroke="#000" stroke-width="1.2" stroke-linecap="butt"/>
<line x1="284.50" y1="319.00" x2="287.50" y2="319.00" stroke="#000" stroke-width="1.2" stroke-linecap="butt"/>
<line x1="286.90" y1="319.00" x2="510.50" y2="319.00" stroke="#000" stroke-width="1.2" stroke-linecap="butt"/>
<line x1="288.00" y1="319.00" x2="288.00" y2="322.00" stroke="#000" stroke-width="1.2" stroke-linecap="butt"/>
<line x1="340.70" y1="319.00" x2="340.70" y2="322.00" stroke="#000" stroke-width="1.2" stroke-linecap="butt"/>
<line x1="393.40" y1="319.00" x2="393.40" y2="322.00" stroke="#000" stroke-width="1.2" stroke-linecap="butt"/>
<line x1="446.10" y1="319.00" x2="446.10" y2="322.00" stroke="#000" stroke-width="1.2" stroke-linecap="butt"/>
<line x1="498.80" y1="319.00" x2="498.80" y2="322.00" stroke="#000" stroke-width="1.2" stroke-linecap="butt"/>
<text x="282.00" y="203.79" font-size="9.2" text-anchor="end" fill="#000" stroke="#000" stroke-width="0.38">1,000</text>
<text x="282.00" y="263.09" font-size="9.2" text-anchor="end" fill="#000" stroke="#000" stroke-width="0.38">500</text>
<text x="282.00" y="322.29" font-size="9.2" text-anchor="end" fill="#000" stroke="#000" stroke-width="0.38">0</text>
<text x="287.70" y="333.83" font-size="9.3" text-anchor="middle" fill="#000" stroke="#000" stroke-width="0.38">0</text>
<text x="340.40" y="333.83" font-size="9.3" text-anchor="middle" fill="#000" stroke="#000" stroke-width="0.38">25</text>
<text x="393.10" y="333.83" font-size="9.3" text-anchor="middle" fill="#000" stroke="#000" stroke-width="0.38">50</text>
<text x="445.80" y="333.83" font-size="9.3" text-anchor="middle" fill="#000" stroke="#000" stroke-width="0.38">75</text>
<text x="498.50" y="333.83" font-size="9.3" text-anchor="middle" fill="#000" stroke="#000" stroke-width="0.38">100</text>
<text x="257.80" y="271.80" font-size="9.7" text-anchor="middle" fill="#000" stroke="#000" stroke-width="0.38" transform="rotate(-90 257.80 271.80)" textLength="91.5" lengthAdjust="spacingAndGlyphs">Tumor volume (mm<tspan font-size="6.5" dy="-3.4">3</tspan><tspan dy="3.4">)</tspan></text>
<text x="299.60" y="202.17" font-size="9.4" text-anchor="start" fill="#000" stroke="#000" stroke-width="0.38"><tspan font-style="italic">P</tspan><tspan dx="2.85">&lt;</tspan><tspan dx="2.85">0.0001</tspan></text>
<line x1="300.00" y1="228.50" x2="313.50" y2="228.50" stroke="#000" stroke-width="1.9" stroke-linecap="butt"/>
<rect x="304.10" y="225.60" width="5.80" height="5.80" fill="#000"/>
<line x1="300.00" y1="241.30" x2="313.50" y2="241.30" stroke="#000" stroke-width="1.9" stroke-linecap="butt"/>
<circle cx="307.00" cy="241.30" r="1.9" fill="#000"/>
<line x1="300.00" y1="254.60" x2="313.50" y2="254.60" stroke="#000" stroke-width="1.7" stroke-linecap="butt" stroke-dasharray="2.6 2"/>
<path d="M305,256.4 L309,256.4 L307,252.4 Z" fill="#000"/>
<line x1="300.00" y1="267.30" x2="313.50" y2="267.30" stroke="#000" stroke-width="1.9" stroke-linecap="butt"/>
<path d="M305,265.6 L309,265.6 L307,269.4 Z" fill="#000"/>
<text x="321.70" y="233.15" font-size="10.2" text-anchor="start" fill="#000" stroke="#000" stroke-width="0.38" textLength="33.3" lengthAdjust="spacingAndGlyphs">Control</text>
<text x="321.70" y="245.95" font-size="10.2" text-anchor="start" fill="#000" stroke="#000" stroke-width="0.38" textLength="57.1" lengthAdjust="spacingAndGlyphs">Sh-EGFL6-1</text>
<text x="321.70" y="259.15" font-size="10.2" text-anchor="start" fill="#000" stroke="#000" stroke-width="0.38" textLength="57.1" lengthAdjust="spacingAndGlyphs">Sh-EGFL6-2</text>
<text x="321.70" y="272.05" font-size="10.2" text-anchor="start" fill="#000" stroke="#000" stroke-width="0.38" textLength="57.1" lengthAdjust="spacingAndGlyphs">Sh-EGFL6-3</text>
<path d="M288.00,318.87 L289.50,318.86 L291.00,318.85 L292.50,318.84 L294.00,318.82 L295.50,318.80 L297.00,318.79 L298.50,318.77 L300.00,318.75 L301.50,318.72 L303.00,318.70 L304.50,318.67 L306.00,318.64 L307.50,318.61 L309.00,318.57 L310.50,318.53 L312.00,318.49 L313.50,318.44 L315.00,318.39 L316.50,318.34 L318.00,318.28 L319.50,318.21 L321.00,318.14 L322.50,318.06 L324.00,317.98 L325.50,317.88 L327.00,317.78 L328.50,317.67 L330.00,317.55 L331.50,317.42 L333.00,317.28 L334.50,317.12 L336.00,316.95 L337.50,316.76 L339.00,316.56 L340.50,316.34 L342.00,316.09 L343.50,315.83 L345.00,315.54 L346.50,315.23 L348.00,314.88 L349.50,314.51 L351.00,314.10 L352.50,313.66 L354.00,313.17 L355.50,312.64 L357.00,312.06 L358.50,311.43 L360.00,310.75 L361.50,309.99 L363.00,309.18 L364.50,308.28 L366.00,307.31 L367.50,306.25 L369.00,305.09 L370.50,303.82 L372.00,302.44 L373.50,300.94 L375.00,299.30 L376.50,297.51 L378.00,295.55 L379.50,293.42 L381.00,291.10 L382.50,288.56 L384.00,285.79 L385.50,282.77 L387.00,279.48 L388.50,275.89 L390.00,271.97 L391.50,267.69 L393.00,263.03 L394.50,257.94 L396.00,252.39 L397.50,246.34 L399.00,239.73 L400.50,232.53 L402.00,224.67 L403.00,219.04" fill="none" stroke="#000" stroke-width="1.9" stroke-linecap="butt" stroke-linejoin="round"/>
<path d="M352.00,318.60 C356.67,318.40 356.67,318.80 366.00,318.00 C375.33,317.20 372.67,317.73 380.00,316.20 C387.33,314.67 382.87,315.67 388.00,313.40 C393.13,311.13 390.40,312.53 395.40,309.40 C400.40,306.27 397.87,308.67 403.00,304.00 C408.13,299.33 405.63,302.00 410.80,295.40 C415.97,288.80 413.37,292.67 418.50,284.20 C423.63,275.73 421.23,279.33 426.20,270.00 C431.17,260.67 431.00,260.80 433.40,256.20" fill="none" stroke="#222" stroke-width="1.6" stroke-linecap="butt" stroke-linejoin="round" stroke-dasharray="3 2"/>
<path d="M375.00,318.64 L376.50,318.60 L378.00,318.56 L379.50,318.51 L381.00,318.45 L382.50,318.39 L384.00,318.33 L385.50,318.25 L387.00,318.17 L388.50,318.08 L390.00,317.97 L391.50,317.86 L393.00,317.73 L394.50,317.59 L396.00,317.44 L397.50,317.27 L399.00,317.07 L400.50,316.86 L402.00,316.62 L403.50,316.36 L405.00,316.07 L406.50,315.75 L408.00,315.38 L409.50,314.98 L411.00,314.54 L412.50,314.05 L414.00,313.50 L415.50,312.89 L417.00,312.21 L418.50,311.46 L420.00,310.63 L421.50,309.70 L423.00,308.67 L424.50,307.53 L426.00,306.26 L427.50,304.84 L429.00,303.28 L430.50,301.54 L432.00,299.60 L433.50,297.46 L435.00,295.07 L436.50,292.42 L438.00,289.48 L439.50,286.21 L441.00,282.58 L442.50,278.55 L444.00,274.07 L445.50,269.09 L447.00,263.57 L448.50,257.43 L448.80,256.13" fill="none" stroke="#000" stroke-width="1.7" stroke-linecap="butt" stroke-linejoin="round"/>
<path d="M431.00,310.68 L432.50,310.35 L434.00,310.02 L435.50,309.67 L437.00,309.30 L438.50,308.92 L440.00,308.53 L441.50,308.12 L443.00,307.70 L444.50,307.26 L446.00,306.80 L447.50,306.32 L449.00,305.83 L450.50,305.32 L452.00,304.78 L453.50,304.23 L455.00,303.65 L456.50,303.05 L458.00,302.43 L459.50,301.79 L461.00,301.11 L462.50,300.42 L464.00,299.69 L465.50,298.94 L467.00,298.16 L468.50,297.34 L470.00,296.50 L471.50,295.62 L473.00,294.71 L474.50,293.76 L476.00,292.78 L477.50,291.76 L479.00,290.70 L480.50,289.59 L482.00,288.45 L483.50,287.25 L485.00,286.02 L486.50,284.73 L488.00,283.39 L489.50,282.01 L491.00,280.56 L492.50,279.07 L494.00,277.51 L495.50,275.89 L497.00,274.21 L498.50,272.46 L500.00,270.65 L501.50,268.76 L503.00,266.80 L504.00,265.46" fill="none" stroke="#333" stroke-width="2.6" stroke-linecap="butt" stroke-linejoin="round" stroke-dasharray="1.6 1.2"/>
<circle cx="290.60" cy="318.80" r="2" fill="#000"/>
<circle cx="302.90" cy="318.80" r="2" fill="#000"/>
<circle cx="321.90" cy="318.80" r="2" fill="#000"/>
<circle cx="335.00" cy="318.80" r="2" fill="#000"/>
<circle cx="347.00" cy="318.80" r="2" fill="#000"/>
<circle cx="362.00" cy="318.80" r="2" fill="#000"/>
<circle cx="370.40" cy="318.80" r="2" fill="#000"/>
<circle cx="377.80" cy="318.80" r="2" fill="#000"/>
<circle cx="383.00" cy="318.80" r="2" fill="#000"/>
<circle cx="395.40" cy="318.80" r="2" fill="#000"/>
<circle cx="401.50" cy="318.80" r="2" fill="#000"/>
<circle cx="411.50" cy="318.80" r="2" fill="#000"/>
<circle cx="415.00" cy="318.80" r="2" fill="#000"/>
<circle cx="425.60" cy="318.80" r="2" fill="#000"/>
<circle cx="433.60" cy="318.80" r="2" fill="#000"/>
<line x1="448.80" y1="307.20" x2="448.80" y2="319.00" stroke="#000" stroke-width="1.6" stroke-linecap="butt"/>
<line x1="446.30" y1="307.20" x2="451.30" y2="307.20" stroke="#000" stroke-width="1.6" stroke-linecap="butt"/>
<line x1="446.30" y1="319.00" x2="451.30" y2="319.00" stroke="#000" stroke-width="1.6" stroke-linecap="butt"/>
<circle cx="448.80" cy="312.60" r="2.1" fill="#000"/>
<line x1="457.50" y1="298.50" x2="457.50" y2="317.70" stroke="#000" stroke-width="1.6" stroke-linecap="butt"/>
<line x1="455.00" y1="298.50" x2="460.00" y2="298.50" stroke="#000" stroke-width="1.6" stroke-linecap="butt"/>
<line x1="455.00" y1="317.70" x2="460.00" y2="317.70" stroke="#000" stroke-width="1.6" stroke-linecap="butt"/>
<circle cx="457.50" cy="307.60" r="2.1" fill="#000"/>
<line x1="463.50" y1="281.40" x2="463.50" y2="307.60" stroke="#000" stroke-width="1.6" stroke-linecap="butt"/>
<line x1="461.00" y1="281.40" x2="466.00" y2="281.40" stroke="#000" stroke-width="1.6" stroke-linecap="butt"/>
<line x1="461.00" y1="307.60" x2="466.00" y2="307.60" stroke="#000" stroke-width="1.6" stroke-linecap="butt"/>
<circle cx="463.50" cy="294.00" r="2.1" fill="#000"/>
<line x1="472.30" y1="271.40" x2="472.30" y2="297.30" stroke="#000" stroke-width="1.6" stroke-linecap="butt"/>
<line x1="469.80" y1="271.40" x2="474.80" y2="271.40" stroke="#000" stroke-width="1.6" stroke-linecap="butt"/>
<line x1="469.80" y1="297.30" x2="474.80" y2="297.30" stroke="#000" stroke-width="1.6" stroke-linecap="butt"/>
<circle cx="472.30" cy="283.60" r="2.1" fill="#000"/>
<line x1="477.00" y1="268.60" x2="477.00" y2="305.00" stroke="#000" stroke-width="1.6" stroke-linecap="butt"/>
<line x1="474.50" y1="268.60" x2="479.50" y2="268.60" stroke="#000" stroke-width="1.6" stroke-linecap="butt"/>
<line x1="474.50" y1="305.00" x2="479.50" y2="305.00" stroke="#000" stroke-width="1.6" stroke-linecap="butt"/>
<circle cx="477.00" cy="286.40" r="2.1" fill="#000"/>
<line x1="487.30" y1="251.40" x2="487.30" y2="297.30" stroke="#000" stroke-width="1.6" stroke-linecap="butt"/>
<line x1="484.80" y1="251.40" x2="489.80" y2="251.40" stroke="#000" stroke-width="1.6" stroke-linecap="butt"/>
<line x1="484.80" y1="297.30" x2="489.80" y2="297.30" stroke="#000" stroke-width="1.6" stroke-linecap="butt"/>
<circle cx="487.30" cy="274.00" r="2.1" fill="#000"/>
<line x1="503.60" y1="258.50" x2="503.60" y2="283.00" stroke="#000" stroke-width="1.6" stroke-linecap="butt"/>
<line x1="501.10" y1="258.50" x2="506.10" y2="258.50" stroke="#000" stroke-width="1.6" stroke-linecap="butt"/>
<line x1="501.10" y1="283.00" x2="506.10" y2="283.00" stroke="#000" stroke-width="1.6" stroke-linecap="butt"/>
<circle cx="503.60" cy="270.00" r="2.1" fill="#000"/>
<line x1="411.40" y1="280.80" x2="411.40" y2="299.20" stroke="#000" stroke-width="1.5" stroke-linecap="butt"/>
<line x1="409.50" y1="280.80" x2="413.30" y2="280.80" stroke="#000" stroke-width="1.5" stroke-linecap="butt"/>
<line x1="409.50" y1="299.20" x2="413.30" y2="299.20" stroke="#000" stroke-width="1.5" stroke-linecap="butt"/>
<path d="M409.0,292.12 L413.79999999999995,292.12 L411.4,287.8 Z" fill="#000"/>
<line x1="415.10" y1="280.80" x2="415.10" y2="299.20" stroke="#000" stroke-width="1.5" stroke-linecap="butt"/>
<line x1="413.20" y1="280.80" x2="417.00" y2="280.80" stroke="#000" stroke-width="1.5" stroke-linecap="butt"/>
<line x1="413.20" y1="299.20" x2="417.00" y2="299.20" stroke="#000" stroke-width="1.5" stroke-linecap="butt"/>
<path d="M412.70000000000005,292.12 L417.5,292.12 L415.1,287.8 Z" fill="#000"/>
<line x1="425.70" y1="257.00" x2="425.70" y2="279.30" stroke="#000" stroke-width="1.5" stroke-linecap="butt"/>
<line x1="423.50" y1="257.00" x2="427.90" y2="257.00" stroke="#000" stroke-width="1.5" stroke-linecap="butt"/>
<line x1="423.50" y1="279.30" x2="427.90" y2="279.30" stroke="#000" stroke-width="1.5" stroke-linecap="butt"/>
<path d="M423.3,271.72 L428.09999999999997,271.72 L425.7,267.40000000000003 Z" fill="#000"/>
<line x1="433.50" y1="234.50" x2="433.50" y2="276.60" stroke="#000" stroke-width="1.5" stroke-linecap="butt"/>
<line x1="431.10" y1="234.50" x2="435.90" y2="234.50" stroke="#000" stroke-width="1.5" stroke-linecap="butt"/>
<line x1="431.10" y1="276.60" x2="435.90" y2="276.60" stroke="#000" stroke-width="1.5" stroke-linecap="butt"/>
<path d="M431.1,258.22 L435.9,258.22 L433.5,253.9 Z" fill="#000"/>
<line x1="425.70" y1="284.80" x2="425.70" y2="310.50" stroke="#000" stroke-width="1.6" stroke-linecap="butt"/>
<line x1="423.20" y1="284.80" x2="428.20" y2="284.80" stroke="#000" stroke-width="1.6" stroke-linecap="butt"/>
<line x1="423.20" y1="310.50" x2="428.20" y2="310.50" stroke="#000" stroke-width="1.6" stroke-linecap="butt"/>
<path d="M423.3,295.68 L428.09999999999997,295.68 L425.7,300.0 Z" fill="#000"/>
<line x1="433.50" y1="286.80" x2="433.50" y2="310.60" stroke="#000" stroke-width="1.6" stroke-linecap="butt"/>
<line x1="431.00" y1="286.80" x2="436.00" y2="286.80" stroke="#000" stroke-width="1.6" stroke-linecap="butt"/>
<line x1="431.00" y1="310.60" x2="436.00" y2="310.60" stroke="#000" stroke-width="1.6" stroke-linecap="butt"/>
<path d="M431.1,295.68 L435.9,295.68 L433.5,300.0 Z" fill="#000"/>
<line x1="448.80" y1="227.70" x2="448.80" y2="287.00" stroke="#000" stroke-width="1.6" stroke-linecap="butt"/>
<line x1="446.30" y1="227.70" x2="451.30" y2="227.70" stroke="#000" stroke-width="1.6" stroke-linecap="butt"/>
<line x1="446.30" y1="287.00" x2="451.30" y2="287.00" stroke="#000" stroke-width="1.6" stroke-linecap="butt"/>
<path d="M446.40000000000003,254.38000000000002 L451.2,254.38000000000002 L448.8,258.7 Z" fill="#000"/>
<line x1="395.40" y1="313.00" x2="395.40" y2="319.00" stroke="#000" stroke-width="1.4" stroke-linecap="butt"/>
<line x1="392.80" y1="313.00" x2="398.00" y2="313.00" stroke="#000" stroke-width="1.4" stroke-linecap="butt"/>
<line x1="392.80" y1="319.00" x2="398.00" y2="319.00" stroke="#000" stroke-width="1.4" stroke-linecap="butt"/>
<line x1="402.40" y1="311.00" x2="402.40" y2="319.00" stroke="#000" stroke-width="1.4" stroke-linecap="butt"/>
<line x1="399.80" y1="311.00" x2="405.00" y2="311.00" stroke="#000" stroke-width="1.4" stroke-linecap="butt"/>
<line x1="399.80" y1="319.00" x2="405.00" y2="319.00" stroke="#000" stroke-width="1.4" stroke-linecap="butt"/>
<line x1="402.40" y1="199.00" x2="402.40" y2="240.60" stroke="#000" stroke-width="1.8" stroke-linecap="butt"/>
<line x1="398.70" y1="199.00" x2="406.10" y2="199.00" stroke="#000" stroke-width="1.8" stroke-linecap="butt"/>
<line x1="398.70" y1="240.60" x2="406.10" y2="240.60" stroke="#000" stroke-width="1.8" stroke-linecap="butt"/>
<rect x="399.00" y="217.00" width="6.80" height="6.80" fill="#000"/>
<line x1="398.60" y1="209.50" x2="398.60" y2="249.70" stroke="#000" stroke-width="1.8" stroke-linecap="butt"/>
<line x1="394.90" y1="209.50" x2="402.30" y2="209.50" stroke="#000" stroke-width="1.8" stroke-linecap="butt"/>
<line x1="394.90" y1="249.70" x2="402.30" y2="249.70" stroke="#000" stroke-width="1.8" stroke-linecap="butt"/>
<rect x="395.20" y="228.60" width="6.80" height="6.80" fill="#000"/>
<line x1="395.50" y1="251.50" x2="395.50" y2="280.40" stroke="#000" stroke-width="1.8" stroke-linecap="butt"/>
<line x1="391.80" y1="251.50" x2="399.20" y2="251.50" stroke="#000" stroke-width="1.8" stroke-linecap="butt"/>
<line x1="391.80" y1="280.40" x2="399.20" y2="280.40" stroke="#000" stroke-width="1.8" stroke-linecap="butt"/>
<rect x="392.10" y="262.80" width="6.80" height="6.80" fill="#000"/>
<line x1="383.30" y1="287.00" x2="383.30" y2="296.00" stroke="#000" stroke-width="1.8" stroke-linecap="butt"/>
<line x1="379.60" y1="287.00" x2="387.00" y2="287.00" stroke="#000" stroke-width="1.8" stroke-linecap="butt"/>
<line x1="379.60" y1="296.00" x2="387.00" y2="296.00" stroke="#000" stroke-width="1.8" stroke-linecap="butt"/>
<rect x="379.90" y="288.10" width="6.80" height="6.80" fill="#000"/>
<line x1="377.60" y1="287.50" x2="377.60" y2="296.50" stroke="#000" stroke-width="1.8" stroke-linecap="butt"/>
<line x1="373.90" y1="287.50" x2="381.30" y2="287.50" stroke="#000" stroke-width="1.8" stroke-linecap="butt"/>
<line x1="373.90" y1="296.50" x2="381.30" y2="296.50" stroke="#000" stroke-width="1.8" stroke-linecap="butt"/>
<rect x="374.20" y="288.60" width="6.80" height="6.80" fill="#000"/>
<line x1="370.40" y1="300.50" x2="370.40" y2="310.50" stroke="#000" stroke-width="1.8" stroke-linecap="butt"/>
<line x1="366.70" y1="300.50" x2="374.10" y2="300.50" stroke="#000" stroke-width="1.8" stroke-linecap="butt"/>
<line x1="366.70" y1="310.50" x2="374.10" y2="310.50" stroke="#000" stroke-width="1.8" stroke-linecap="butt"/>
<rect x="367.00" y="302.10" width="6.80" height="6.80" fill="#000"/>
<line x1="362.30" y1="301.00" x2="362.30" y2="311.00" stroke="#000" stroke-width="1.8" stroke-linecap="butt"/>
<line x1="358.60" y1="301.00" x2="366.00" y2="301.00" stroke="#000" stroke-width="1.8" stroke-linecap="butt"/>
<line x1="358.60" y1="311.00" x2="366.00" y2="311.00" stroke="#000" stroke-width="1.8" stroke-linecap="butt"/>
<rect x="358.90" y="303.10" width="6.80" height="6.80" fill="#000"/>
<rect x="343.80" y="309.40" width="6.60" height="6.60" fill="#000"/>
<rect x="331.70" y="314.00" width="6.60" height="6.60" fill="#000"/>
<rect x="318.60" y="313.80" width="6.60" height="6.60" fill="#000"/>
<rect x="299.60" y="315.50" width="6.60" height="6.60" fill="#000"/>
<rect x="287.40" y="315.50" width="6.60" height="6.60" fill="#000"/>
<text x="229.00" y="351.88" font-size="10" text-anchor="start" fill="#000" font-weight="bold">(v)</text>
<line x1="298.90" y1="362.60" x2="298.90" y2="421.80" stroke="#000" stroke-width="1.2" stroke-linecap="butt"/>
<line x1="295.90" y1="362.60" x2="298.90" y2="362.60" stroke="#000" stroke-width="1.2" stroke-linecap="butt"/>
<line x1="295.90" y1="374.30" x2="298.90" y2="374.30" stroke="#000" stroke-width="1.2" stroke-linecap="butt"/>
<line x1="295.90" y1="386.00" x2="298.90" y2="386.00" stroke="#000" stroke-width="1.2" stroke-linecap="butt"/>
<line x1="295.90" y1="397.80" x2="298.90" y2="397.80" stroke="#000" stroke-width="1.2" stroke-linecap="butt"/>
<line x1="295.90" y1="409.50" x2="298.90" y2="409.50" stroke="#000" stroke-width="1.2" stroke-linecap="butt"/>
<line x1="295.90" y1="421.20" x2="298.90" y2="421.20" stroke="#000" stroke-width="1.2" stroke-linecap="butt"/>
<line x1="298.30" y1="421.20" x2="393.00" y2="421.20" stroke="#000" stroke-width="1.2" stroke-linecap="butt"/>
<line x1="298.90" y1="421.20" x2="298.90" y2="423.70" stroke="#000" stroke-width="1.2" stroke-linecap="butt"/>
<line x1="345.60" y1="421.20" x2="345.60" y2="423.70" stroke="#000" stroke-width="1.2" stroke-linecap="butt"/>
<line x1="392.30" y1="421.20" x2="392.30" y2="423.70" stroke="#000" stroke-width="1.2" stroke-linecap="butt"/>
<text x="295.30" y="366.83" font-size="9.3" text-anchor="end" fill="#000" stroke="#000" stroke-width="0.38" textLength="16.3" lengthAdjust="spacingAndGlyphs">100</text>
<text x="295.30" y="378.53" font-size="9.3" text-anchor="end" fill="#000" stroke="#000" stroke-width="0.38" textLength="10.9" lengthAdjust="spacingAndGlyphs">80</text>
<text x="295.30" y="390.23" font-size="9.3" text-anchor="end" fill="#000" stroke="#000" stroke-width="0.38" textLength="10.9" lengthAdjust="spacingAndGlyphs">60</text>
<text x="295.30" y="402.03" font-size="9.3" text-anchor="end" fill="#000" stroke="#000" stroke-width="0.38" textLength="10.9" lengthAdjust="spacingAndGlyphs">40</text>
<text x="295.30" y="413.73" font-size="9.3" text-anchor="end" fill="#000" stroke="#000" stroke-width="0.38" textLength="10.9" lengthAdjust="spacingAndGlyphs">20</text>
<text x="295.30" y="425.43" font-size="9.3" text-anchor="end" fill="#000" stroke="#000" stroke-width="0.38" textLength="5.4" lengthAdjust="spacingAndGlyphs">0</text>
<text x="299.60" y="431.12" font-size="7.6" text-anchor="middle" fill="#000" font-weight="bold">0</text>
<text x="346.20" y="431.12" font-size="7.6" text-anchor="middle" fill="#000" font-weight="bold">50</text>
<text x="392.80" y="431.12" font-size="7.6" text-anchor="middle" fill="#000" font-weight="bold">100</text>
<text x="347.60" y="441.76" font-size="9.1" text-anchor="middle" fill="#000" stroke="#000" stroke-width="0.38">Day</text>
<text x="268.20" y="391.50" font-size="9.5" text-anchor="middle" fill="#000" stroke="#000" stroke-width="0.38" transform="rotate(-90 268.20 391.50)" textLength="73" lengthAdjust="spacingAndGlyphs">Percent survival</text>
<text x="306.50" y="354.33" font-size="9.3" text-anchor="start" fill="#000" stroke="#000" stroke-width="0.38"><tspan font-style="italic">P</tspan><tspan dx="0.71">&lt;</tspan><tspan dx="0.71">0.0001</tspan></text>
<path d="M298.9,362.6 H357 V366 H359.7 V369 H365.5 V371.5 H372.5 V375.7 H378.2 V389 H382.7 V400.1 H392 V421.2" fill="none" stroke="#000" stroke-width="1.75" stroke-linecap="butt" stroke-linejoin="miter"/>
<path d="M342.4,362.6 V376 H345.3 V398 H347 V421.2" fill="none" stroke="#333" stroke-width="1.1" stroke-linecap="butt" stroke-linejoin="miter" stroke-dasharray="1.3 1.1"/>
<text x="337.50" y="393.50" font-size="9" text-anchor="middle" fill="#000" stroke="#000" stroke-width="0.38" transform="rotate(-90 337.50 393.50)" textLength="29" lengthAdjust="spacingAndGlyphs">Control</text>
<text x="371.00" y="398.50" font-size="9" text-anchor="middle" fill="#000" stroke="#000" stroke-width="0.38" transform="rotate(-90 371.00 398.50)" textLength="43" lengthAdjust="spacingAndGlyphs">Sh-EGFL6</text>
<text x="386.00" y="351.88" font-size="10" text-anchor="start" fill="#000" font-weight="bold" textLength="13.8" lengthAdjust="spacingAndGlyphs">(vi)</text>
<line x1="450.00" y1="349.50" x2="450.00" y2="420.10" stroke="#000" stroke-width="1.2" stroke-linecap="butt"/>
<line x1="447.00" y1="360.50" x2="450.00" y2="360.50" stroke="#000" stroke-width="1.2" stroke-linecap="butt"/>
<line x1="447.00" y1="390.00" x2="450.00" y2="390.00" stroke="#000" stroke-width="1.2" stroke-linecap="butt"/>
<line x1="447.00" y1="419.50" x2="450.00" y2="419.50" stroke="#000" stroke-width="1.2" stroke-linecap="butt"/>
<line x1="449.40" y1="419.50" x2="495.00" y2="419.50" stroke="#000" stroke-width="1.2" stroke-linecap="butt"/>
<text x="447.00" y="363.72" font-size="9" text-anchor="end" fill="#000" stroke="#000" stroke-width="0.38">20</text>
<text x="447.00" y="393.22" font-size="9" text-anchor="end" fill="#000" stroke="#000" stroke-width="0.38">10</text>
<text x="447.00" y="422.72" font-size="9" text-anchor="end" fill="#000" stroke="#000" stroke-width="0.38">0</text>
<line x1="460.50" y1="349.50" x2="460.50" y2="354.00" stroke="#000" stroke-width="1.2" stroke-linecap="butt"/>
<line x1="457.10" y1="349.50" x2="463.90" y2="349.50" stroke="#000" stroke-width="1.2" stroke-linecap="butt"/>
<rect x="453.80" y="353.00" width="13.70" height="66.50" fill="#000"/>
<line x1="483.00" y1="375.00" x2="483.00" y2="382.00" stroke="#000" stroke-width="1.2" stroke-linecap="butt"/>
<line x1="479.80" y1="375.00" x2="486.20" y2="375.00" stroke="#000" stroke-width="1.2" stroke-linecap="butt"/>
<rect x="476.30" y="381.30" width="13.20" height="38.20" fill="#000"/>
<text x="473.80" y="363.15" font-size="8.8" text-anchor="start" fill="#000" stroke="#000" stroke-width="0.5"><tspan font-style="italic">P</tspan><tspan dx="2.24">=</tspan><tspan dx="2.24">0.001</tspan></text>
<text x="438.80" y="433.08" font-size="8.6" text-anchor="start" fill="#000" stroke="#000" stroke-width="0.38" textLength="27.5" lengthAdjust="spacingAndGlyphs">Control</text>
<text x="475.00" y="433.08" font-size="8.6" text-anchor="start" fill="#000" stroke="#000" stroke-width="0.38" textLength="43.7" lengthAdjust="spacingAndGlyphs">Sh-EGFL6</text>
<text x="430.50" y="385.50" font-size="10" text-anchor="middle" fill="#000" stroke="#000" stroke-width="0.38" transform="rotate(-90 430.50 385.50)" textLength="99" lengthAdjust="spacingAndGlyphs">%ALDH<tspan font-size="7" dy="-3.5">+</tspan><tspan dy="3.5"> Cells/tumor</tspan></text>
<text x="1.50" y="453.00" font-size="13" text-anchor="start" fill="#000" font-weight="bold">C</text>
<text x="8.00" y="464.58" font-size="10" text-anchor="start" fill="#000" font-weight="bold">(i)</text>
<line x1="45.50" y1="472.50" x2="45.50" y2="571.90" stroke="#000" stroke-width="1.2" stroke-linecap="butt"/>
<line x1="42.50" y1="494.70" x2="45.50" y2="494.70" stroke="#000" stroke-width="1.2" stroke-linecap="butt"/>
<line x1="42.50" y1="533.00" x2="45.50" y2="533.00" stroke="#000" stroke-width="1.2" stroke-linecap="butt"/>
<line x1="42.50" y1="571.30" x2="45.50" y2="571.30" stroke="#000" stroke-width="1.2" stroke-linecap="butt"/>
<line x1="44.90" y1="571.30" x2="189.50" y2="571.30" stroke="#000" stroke-width="1.2" stroke-linecap="butt"/>
<line x1="48.50" y1="571.30" x2="48.50" y2="574.30" stroke="#000" stroke-width="1.2" stroke-linecap="butt"/>
<line x1="79.50" y1="571.30" x2="79.50" y2="574.30" stroke="#000" stroke-width="1.2" stroke-linecap="butt"/>
<line x1="110.50" y1="571.30" x2="110.50" y2="574.30" stroke="#000" stroke-width="1.2" stroke-linecap="butt"/>
<line x1="141.50" y1="571.30" x2="141.50" y2="574.30" stroke="#000" stroke-width="1.2" stroke-linecap="butt"/>
<line x1="172.50" y1="571.30" x2="172.50" y2="574.30" stroke="#000" stroke-width="1.2" stroke-linecap="butt"/>
<text x="41.50" y="498.35" font-size="10.2" text-anchor="end" fill="#000" stroke="#000" stroke-width="0.38">1,000</text>
<text x="41.50" y="536.65" font-size="10.2" text-anchor="end" fill="#000" stroke="#000" stroke-width="0.38">500</text>
<text x="41.50" y="574.95" font-size="10.2" text-anchor="end" fill="#000" stroke="#000" stroke-width="0.38">0</text>
<text x="48.50" y="584.83" font-size="9.3" text-anchor="middle" fill="#000" stroke="#000" stroke-width="0.38">0</text>
<text x="79.50" y="584.83" font-size="9.3" text-anchor="middle" fill="#000" stroke="#000" stroke-width="0.38">10</text>
<text x="110.50" y="584.83" font-size="9.3" text-anchor="middle" fill="#000" stroke="#000" stroke-width="0.38">20</text>
<text x="141.50" y="584.83" font-size="9.3" text-anchor="middle" fill="#000" stroke="#000" stroke-width="0.38">30</text>
<text x="172.50" y="584.83" font-size="9.3" text-anchor="middle" fill="#000" stroke="#000" stroke-width="0.38">40</text>
<text x="10.90" y="524.00" font-size="9.7" text-anchor="middle" fill="#000" stroke="#000" stroke-width="0.38" transform="rotate(-90 10.90 524.00)" textLength="90" lengthAdjust="spacingAndGlyphs">Tumor volume (mm<tspan font-size="6.5" dy="-3.5">3</tspan><tspan dy="3.5">)</tspan></text>
<text x="73.80" y="487.94" font-size="9.6" text-anchor="start" fill="#000" stroke="#000" stroke-width="0.38"><tspan font-style="italic">P</tspan><tspan dx="2.59">&lt;</tspan><tspan dx="2.59">0.001</tspan></text>
<line x1="60.50" y1="509.80" x2="68.50" y2="509.80" stroke="#000" stroke-width="1.3" stroke-linecap="butt"/>
<rect x="62.30" y="507.60" width="4.40" height="4.40" fill="#000"/>
<line x1="60.50" y1="521.00" x2="68.50" y2="521.00" stroke="#000" stroke-width="1.3" stroke-linecap="butt"/>
<circle cx="64.50" cy="521.00" r="1.4" fill="#000"/>
<text x="76.30" y="513.38" font-size="10" text-anchor="start" fill="#000" stroke="#000" stroke-width="0.38" textLength="32.5" lengthAdjust="spacingAndGlyphs">Control</text>
<text x="76.30" y="524.58" font-size="10" text-anchor="start" fill="#000" stroke="#000" stroke-width="0.38" textLength="45" lengthAdjust="spacingAndGlyphs">EGFL6Ab</text>
<path d="M48.50,571.00 L50.00,571.00 L51.50,571.00 L53.00,570.99 L54.50,570.99 L56.00,570.98 L57.50,570.97 L59.00,570.96 L60.50,570.94 L62.00,570.92 L63.50,570.89 L65.00,570.87 L66.50,570.83 L68.00,570.80 L69.50,570.76 L71.00,570.71 L72.50,570.66 L74.00,570.61 L75.50,570.55 L77.00,570.49 L78.50,570.42 L80.00,570.35 L81.50,570.27 L83.00,570.18 L84.50,570.09 L86.00,570.00 L87.50,569.90 L89.00,569.79 L90.50,569.68 L92.00,569.56 L93.50,569.43 L95.00,569.30 L96.50,569.17 L98.00,569.02 L99.50,568.87 L101.00,568.72 L102.50,568.55 L104.00,568.38 L105.50,568.21 L107.00,568.02 L108.50,567.83 L110.00,567.63 L111.50,567.43 L113.00,567.22 L114.50,567.00 L116.00,566.77 L117.50,566.54 L119.00,566.30 L120.50,566.05 L122.00,565.79 L123.50,565.53 L125.00,565.25 L126.50,564.97 L128.00,564.69 L129.50,564.39 L131.00,564.09 L132.50,563.77 L134.00,563.45 L135.50,563.12 L137.00,562.79 L138.50,562.44 L140.00,562.09 L141.50,561.73 L143.00,561.36 L144.50,560.98 L146.00,560.59 L147.50,560.19 L149.00,559.79 L150.50,559.37 L152.00,558.95 L153.50,558.52 L155.00,558.07 L156.50,557.62 L158.00,557.16 L159.50,556.69 L161.00,556.22 L162.50,555.73 L164.00,555.23 L165.50,554.73 L167.00,554.21 L168.50,553.68 L170.00,553.15 L171.50,552.60 L173.00,552.05 L174.50,551.49 L176.00,550.91 L177.50,550.33 L179.00,549.73 L180.50,549.13 L182.00,548.52 L183.50,547.89 L185.00,547.26 L185.50,547.04" fill="none" stroke="#777" stroke-width="1.6" stroke-linecap="butt" stroke-linejoin="round" stroke-dasharray="4.5 2.5"/>
<path d="M48.50,570.50 L50.00,570.50 L51.50,570.50 L53.00,570.50 L54.50,570.50 L56.00,570.50 L57.50,570.50 L59.00,570.49 L60.50,570.49 L62.00,570.48 L63.50,570.47 L65.00,570.46 L66.50,570.44 L68.00,570.43 L69.50,570.40 L71.00,570.38 L72.50,570.34 L74.00,570.30 L75.50,570.26 L77.00,570.21 L78.50,570.15 L80.00,570.08 L81.50,570.00 L83.00,569.92 L84.50,569.82 L86.00,569.71 L87.50,569.60 L89.00,569.46 L90.50,569.32 L92.00,569.16 L93.50,568.99 L95.00,568.80 L96.50,568.59 L98.00,568.37 L99.50,568.12 L101.00,567.86 L102.50,567.58 L104.00,567.28 L105.50,566.95 L107.00,566.61 L108.50,566.24 L110.00,565.84 L111.50,565.42 L113.00,564.97 L114.50,564.49 L116.00,563.98 L117.50,563.45 L119.00,562.88 L120.50,562.28 L122.00,561.65 L123.50,560.98 L125.00,560.28 L126.50,559.53 L128.00,558.76 L129.50,557.94 L131.00,557.08 L132.50,556.18 L134.00,555.24 L135.50,554.25 L137.00,553.22 L138.50,552.14 L140.00,551.02 L141.50,549.85 L143.00,548.62 L144.50,547.34 L146.00,546.02 L147.50,544.63 L149.00,543.19 L150.50,541.70 L152.00,540.14 L153.50,538.53 L155.00,536.85 L156.50,535.12 L158.00,533.31 L159.50,531.45 L161.00,529.51 L162.50,527.51 L164.00,525.44 L165.50,523.30 L167.00,521.08 L168.50,518.79 L170.00,516.43 L171.50,513.99 L173.00,511.47 L174.50,508.87 L176.00,506.18 L177.50,503.42 L179.00,500.57 L180.50,497.63 L182.00,494.60 L183.50,491.49 L185.00,488.28 L185.50,487.19" fill="none" stroke="#000" stroke-width="1.9" stroke-linecap="butt" stroke-linejoin="round"/>
<line x1="184.70" y1="538.50" x2="184.70" y2="556.50" stroke="#000" stroke-width="1.2" stroke-linecap="butt"/>
<line x1="183.10" y1="538.50" x2="186.30" y2="538.50" stroke="#000" stroke-width="1.2" stroke-linecap="butt"/>
<line x1="183.10" y1="556.50" x2="186.30" y2="556.50" stroke="#000" stroke-width="1.2" stroke-linecap="butt"/>
<circle cx="184.70" cy="547.00" r="1.4" fill="#000"/>
<line x1="178.00" y1="547.00" x2="178.00" y2="556.50" stroke="#000" stroke-width="1.2" stroke-linecap="butt"/>
<line x1="176.40" y1="547.00" x2="179.60" y2="547.00" stroke="#000" stroke-width="1.2" stroke-linecap="butt"/>
<line x1="176.40" y1="556.50" x2="179.60" y2="556.50" stroke="#000" stroke-width="1.2" stroke-linecap="butt"/>
<circle cx="178.00" cy="551.00" r="1.4" fill="#000"/>
<line x1="165.50" y1="548.00" x2="165.50" y2="557.00" stroke="#000" stroke-width="1.2" stroke-linecap="butt"/>
<line x1="163.90" y1="548.00" x2="167.10" y2="548.00" stroke="#000" stroke-width="1.2" stroke-linecap="butt"/>
<line x1="163.90" y1="557.00" x2="167.10" y2="557.00" stroke="#000" stroke-width="1.2" stroke-linecap="butt"/>
<circle cx="165.50" cy="552.00" r="1.4" fill="#000"/>
<line x1="153.00" y1="551.00" x2="153.00" y2="558.30" stroke="#000" stroke-width="1.2" stroke-linecap="butt"/>
<line x1="151.40" y1="551.00" x2="154.60" y2="551.00" stroke="#000" stroke-width="1.2" stroke-linecap="butt"/>
<line x1="151.40" y1="558.30" x2="154.60" y2="558.30" stroke="#000" stroke-width="1.2" stroke-linecap="butt"/>
<circle cx="153.00" cy="554.80" r="1.4" fill="#000"/>
<line x1="143.50" y1="555.50" x2="143.50" y2="560.00" stroke="#000" stroke-width="1.2" stroke-linecap="butt"/>
<line x1="141.90" y1="555.50" x2="145.10" y2="555.50" stroke="#000" stroke-width="1.2" stroke-linecap="butt"/>
<line x1="141.90" y1="560.00" x2="145.10" y2="560.00" stroke="#000" stroke-width="1.2" stroke-linecap="butt"/>
<circle cx="143.50" cy="557.80" r="1.4" fill="#000"/>
<line x1="134.50" y1="561.00" x2="134.50" y2="565.00" stroke="#000" stroke-width="1.2" stroke-linecap="butt"/>
<line x1="132.90" y1="561.00" x2="136.10" y2="561.00" stroke="#000" stroke-width="1.2" stroke-linecap="butt"/>
<line x1="132.90" y1="565.00" x2="136.10" y2="565.00" stroke="#000" stroke-width="1.2" stroke-linecap="butt"/>
<circle cx="134.50" cy="563.00" r="1.4" fill="#000"/>
<line x1="185.00" y1="473.00" x2="185.00" y2="498.50" stroke="#000" stroke-width="1.2" stroke-linecap="butt"/>
<line x1="182.80" y1="473.00" x2="187.20" y2="473.00" stroke="#000" stroke-width="1.2" stroke-linecap="butt"/>
<line x1="182.80" y1="498.50" x2="187.20" y2="498.50" stroke="#000" stroke-width="1.2" stroke-linecap="butt"/>
<rect x="182.60" y="483.10" width="4.80" height="4.80" fill="#000"/>
<line x1="178.00" y1="493.50" x2="178.00" y2="514.00" stroke="#000" stroke-width="1.2" stroke-linecap="butt"/>
<line x1="175.80" y1="493.50" x2="180.20" y2="493.50" stroke="#000" stroke-width="1.2" stroke-linecap="butt"/>
<line x1="175.80" y1="514.00" x2="180.20" y2="514.00" stroke="#000" stroke-width="1.2" stroke-linecap="butt"/>
<rect x="175.60" y="501.10" width="4.80" height="4.80" fill="#000"/>
<line x1="165.80" y1="502.00" x2="165.80" y2="524.80" stroke="#000" stroke-width="1.2" stroke-linecap="butt"/>
<line x1="163.60" y1="502.00" x2="168.00" y2="502.00" stroke="#000" stroke-width="1.2" stroke-linecap="butt"/>
<line x1="163.60" y1="524.80" x2="168.00" y2="524.80" stroke="#000" stroke-width="1.2" stroke-linecap="butt"/>
<rect x="163.40" y="511.60" width="4.80" height="4.80" fill="#000"/>
<line x1="153.00" y1="528.50" x2="153.00" y2="537.50" stroke="#000" stroke-width="1.2" stroke-linecap="butt"/>
<line x1="150.80" y1="528.50" x2="155.20" y2="528.50" stroke="#000" stroke-width="1.2" stroke-linecap="butt"/>
<line x1="150.80" y1="537.50" x2="155.20" y2="537.50" stroke="#000" stroke-width="1.2" stroke-linecap="butt"/>
<rect x="150.60" y="530.60" width="4.80" height="4.80" fill="#000"/>
<line x1="143.30" y1="544.00" x2="143.30" y2="554.00" stroke="#000" stroke-width="1.2" stroke-linecap="butt"/>
<line x1="141.10" y1="544.00" x2="145.50" y2="544.00" stroke="#000" stroke-width="1.2" stroke-linecap="butt"/>
<line x1="141.10" y1="554.00" x2="145.50" y2="554.00" stroke="#000" stroke-width="1.2" stroke-linecap="butt"/>
<rect x="140.90" y="546.60" width="4.80" height="4.80" fill="#000"/>
<line x1="134.50" y1="556.00" x2="134.50" y2="562.00" stroke="#000" stroke-width="1.2" stroke-linecap="butt"/>
<line x1="132.30" y1="556.00" x2="136.70" y2="556.00" stroke="#000" stroke-width="1.2" stroke-linecap="butt"/>
<line x1="132.30" y1="562.00" x2="136.70" y2="562.00" stroke="#000" stroke-width="1.2" stroke-linecap="butt"/>
<rect x="132.10" y="556.60" width="4.80" height="4.80" fill="#000"/>
<rect x="118.90" y="565.70" width="4.60" height="4.60" fill="#000"/>
<rect x="109.70" y="567.30" width="4.60" height="4.60" fill="#000"/>
<rect x="97.20" y="568.30" width="4.60" height="4.60" fill="#000"/>
<rect x="87.20" y="568.50" width="4.60" height="4.60" fill="#000"/>
<rect x="77.70" y="568.70" width="4.60" height="4.60" fill="#000"/>
<rect x="55.70" y="568.70" width="4.60" height="4.60" fill="#000"/>
<rect x="46.50" y="568.70" width="4.60" height="4.60" fill="#000"/>
<text x="200.00" y="465.58" font-size="10" text-anchor="start" fill="#000" font-weight="bold">(ii)</text>
<line x1="232.50" y1="493.50" x2="232.50" y2="572.10" stroke="#000" stroke-width="1.2" stroke-linecap="butt"/>
<line x1="229.50" y1="495.50" x2="232.50" y2="495.50" stroke="#000" stroke-width="1.2" stroke-linecap="butt"/>
<line x1="229.50" y1="520.80" x2="232.50" y2="520.80" stroke="#000" stroke-width="1.2" stroke-linecap="butt"/>
<line x1="229.50" y1="546.20" x2="232.50" y2="546.20" stroke="#000" stroke-width="1.2" stroke-linecap="butt"/>
<line x1="229.50" y1="571.50" x2="232.50" y2="571.50" stroke="#000" stroke-width="1.2" stroke-linecap="butt"/>
<line x1="231.90" y1="571.50" x2="267.50" y2="571.50" stroke="#000" stroke-width="1.2" stroke-linecap="butt"/>
<text x="229.00" y="499.63" font-size="9.3" text-anchor="end" fill="#000" stroke="#000" stroke-width="0.38">1.5</text>
<text x="229.00" y="524.73" font-size="9.3" text-anchor="end" fill="#000" stroke="#000" stroke-width="0.38">1.0</text>
<text x="229.00" y="549.93" font-size="9.3" text-anchor="end" fill="#000" stroke="#000" stroke-width="0.38">0.5</text>
<text x="229.00" y="575.33" font-size="9.3" text-anchor="end" fill="#000" stroke="#000" stroke-width="0.38">0</text>
<line x1="240.70" y1="517.00" x2="240.70" y2="528.00" stroke="#000" stroke-width="1.2" stroke-linecap="butt"/>
<line x1="237.70" y1="517.00" x2="243.70" y2="517.00" stroke="#000" stroke-width="1.2" stroke-linecap="butt"/>
<rect x="234.50" y="527.00" width="13.10" height="44.50" fill="#000"/>
<line x1="258.80" y1="546.00" x2="258.80" y2="552.00" stroke="#000" stroke-width="1.2" stroke-linecap="butt"/>
<line x1="255.60" y1="546.00" x2="262.00" y2="546.00" stroke="#000" stroke-width="1.2" stroke-linecap="butt"/>
<rect x="252.50" y="551.50" width="12.50" height="20.00" fill="#000"/>
<text x="240.40" y="489.47" font-size="9.7" text-anchor="start" fill="#000" stroke="#000" stroke-width="0.38"><tspan font-style="italic">P</tspan><tspan dx="2.75">=</tspan><tspan dx="2.75">0.002</tspan></text>
<text x="215.00" y="583.20" font-size="9.5" text-anchor="start" fill="#000" stroke="#000" stroke-width="0.38" textLength="30.5" lengthAdjust="spacingAndGlyphs">Control</text>
<text x="252.50" y="583.20" font-size="9.5" text-anchor="start" fill="#000" stroke="#000" stroke-width="0.38" textLength="43.7" lengthAdjust="spacingAndGlyphs">EGFL6Ab</text>
<text x="208.00" y="528.50" font-size="10" text-anchor="middle" fill="#000" stroke="#000" stroke-width="0.38" transform="rotate(-90 208.00 528.50)" textLength="73" lengthAdjust="spacingAndGlyphs">Tumor weight (g)</text>
<text x="310.00" y="465.08" font-size="10" text-anchor="start" fill="#000" font-weight="bold">(iii)</text>
<line x1="346.30" y1="501.50" x2="346.30" y2="572.10" stroke="#000" stroke-width="1.2" stroke-linecap="butt"/>
<line x1="343.30" y1="516.00" x2="346.30" y2="516.00" stroke="#000" stroke-width="1.2" stroke-linecap="butt"/>
<line x1="343.30" y1="543.80" x2="346.30" y2="543.80" stroke="#000" stroke-width="1.2" stroke-linecap="butt"/>
<line x1="343.30" y1="571.50" x2="346.30" y2="571.50" stroke="#000" stroke-width="1.2" stroke-linecap="butt"/>
<line x1="345.70" y1="571.50" x2="383.80" y2="571.50" stroke="#000" stroke-width="1.2" stroke-linecap="butt"/>
<text x="343.40" y="520.40" font-size="9.5" text-anchor="end" fill="#000" stroke="#000" stroke-width="0.38">20</text>
<text x="343.40" y="547.90" font-size="9.5" text-anchor="end" fill="#000" stroke="#000" stroke-width="0.38">10</text>
<text x="343.40" y="575.40" font-size="9.5" text-anchor="end" fill="#000" stroke="#000" stroke-width="0.38">0</text>
<line x1="355.60" y1="509.00" x2="355.60" y2="516.00" stroke="#000" stroke-width="1.2" stroke-linecap="butt"/>
<line x1="352.50" y1="509.00" x2="358.70" y2="509.00" stroke="#000" stroke-width="1.2" stroke-linecap="butt"/>
<rect x="348.80" y="515.50" width="13.70" height="56.00" fill="#000"/>
<line x1="375.60" y1="531.50" x2="375.60" y2="534.00" stroke="#000" stroke-width="1.2" stroke-linecap="butt"/>
<line x1="372.50" y1="531.50" x2="378.70" y2="531.50" stroke="#000" stroke-width="1.2" stroke-linecap="butt"/>
<rect x="368.80" y="533.00" width="13.20" height="38.50" fill="#000"/>
<text x="368.80" y="487.90" font-size="9.5" text-anchor="start" fill="#000" stroke="#000" stroke-width="0.5"><tspan font-style="italic">P</tspan><tspan dx="2.47">=</tspan><tspan dx="2.47">0.017</tspan></text>
<text x="330.50" y="582.40" font-size="9.5" text-anchor="start" fill="#000" stroke="#000" stroke-width="0.38" textLength="30.8" lengthAdjust="spacingAndGlyphs">Control</text>
<text x="368.00" y="582.40" font-size="9.5" text-anchor="start" fill="#000" stroke="#000" stroke-width="0.38" textLength="43.2" lengthAdjust="spacingAndGlyphs">EGFL6Ab</text>
<text x="327.00" y="528.50" font-size="10" text-anchor="middle" fill="#000" stroke="#000" stroke-width="0.38" transform="rotate(-90 327.00 528.50)" textLength="96" lengthAdjust="spacingAndGlyphs">%ALDH<tspan font-size="7" dy="-3.5">+</tspan><tspan dy="3.5"> cells/tumor</tspan></text>
<text x="419.60" y="463.08" font-size="10" text-anchor="start" fill="#000" font-weight="bold">(iv)</text>
<line x1="450.30" y1="497.50" x2="450.30" y2="571.80" stroke="#000" stroke-width="1.2" stroke-linecap="butt"/>
<line x1="447.30" y1="498.50" x2="450.30" y2="498.50" stroke="#000" stroke-width="1.2" stroke-linecap="butt"/>
<line x1="447.30" y1="522.70" x2="450.30" y2="522.70" stroke="#000" stroke-width="1.2" stroke-linecap="butt"/>
<line x1="447.30" y1="547.00" x2="450.30" y2="547.00" stroke="#000" stroke-width="1.2" stroke-linecap="butt"/>
<line x1="447.30" y1="571.20" x2="450.30" y2="571.20" stroke="#000" stroke-width="1.2" stroke-linecap="butt"/>
<line x1="449.70" y1="571.20" x2="492.30" y2="571.20" stroke="#000" stroke-width="1.2" stroke-linecap="butt"/>
<text x="447.50" y="502.40" font-size="9.5" text-anchor="end" fill="#000" stroke="#000" stroke-width="0.38">3</text>
<text x="447.50" y="526.20" font-size="9.5" text-anchor="end" fill="#000" stroke="#000" stroke-width="0.38">2</text>
<text x="447.50" y="550.40" font-size="9.5" text-anchor="end" fill="#000" stroke="#000" stroke-width="0.38">1</text>
<text x="447.50" y="575.00" font-size="9.5" text-anchor="end" fill="#000" stroke="#000" stroke-width="0.38">0</text>
<line x1="460.60" y1="509.50" x2="460.60" y2="517.00" stroke="#000" stroke-width="1.2" stroke-linecap="butt"/>
<line x1="457.70" y1="509.50" x2="463.50" y2="509.50" stroke="#000" stroke-width="1.2" stroke-linecap="butt"/>
<rect x="453.50" y="516.50" width="13.90" height="54.70" fill="#000"/>
<line x1="481.60" y1="560.50" x2="481.60" y2="562.00" stroke="#000" stroke-width="1.2" stroke-linecap="butt"/>
<line x1="478.70" y1="560.50" x2="484.50" y2="560.50" stroke="#000" stroke-width="1.2" stroke-linecap="butt"/>
<rect x="475.00" y="561.50" width="13.20" height="9.70" fill="#000"/>
<text x="438.00" y="581.70" font-size="9.5" text-anchor="start" fill="#000" stroke="#000" stroke-width="0.38" textLength="31.2" lengthAdjust="spacingAndGlyphs">Control</text>
<text x="475.70" y="581.70" font-size="9.5" text-anchor="start" fill="#000" stroke="#000" stroke-width="0.38" textLength="43.8" lengthAdjust="spacingAndGlyphs">EGFL6Ab</text>
<text x="423.00" y="526.50" font-size="10" text-anchor="middle" fill="#000" stroke="#000" stroke-width="0.38" transform="rotate(-90 423.00 526.50)" textLength="95" lengthAdjust="spacingAndGlyphs">ALDH<tspan font-size="7" dy="-3.5">+</tspan><tspan dy="3.5">Cells number</tspan></text>
<text x="434.60" y="527.30" font-size="10" text-anchor="middle" fill="#000" stroke="#000" stroke-width="0.38" transform="rotate(-90 434.60 527.30)" textLength="63" lengthAdjust="spacingAndGlyphs">x10,000/tumor</text>
</g>
</svg>
</body></html>
